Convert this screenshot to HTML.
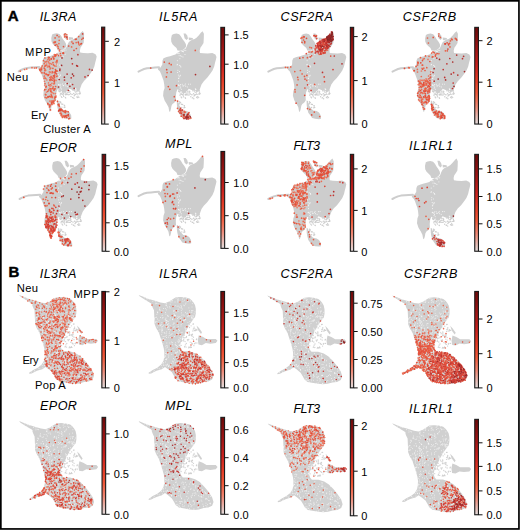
<!DOCTYPE html><html><head><meta charset="utf-8"><style>html,body{margin:0;padding:0;background:#fff;overflow:hidden;}svg{display:block;}</style></head><body>
<svg width="520" height="530" viewBox="0 0 520 530" font-family='"Liberation Sans", sans-serif'>
<defs>
<linearGradient id="cm" x1="0" y1="1" x2="0" y2="0"><stop offset="0" stop-color="#e2dcdc"/><stop offset="0.08" stop-color="#e8b8b0"/><stop offset="0.18" stop-color="#f08874"/><stop offset="0.32" stop-color="#f05838"/><stop offset="0.45" stop-color="#e43c26"/><stop offset="0.6" stop-color="#ca221e"/><stop offset="0.8" stop-color="#9a1414"/><stop offset="1.0" stop-color="#6a0a0a"/></linearGradient>
<g id="shA" fill="#cdcdcd"><polyline points="138.5,71.6 141.0,70.3 144.0,69.0 147.0,68.2 151.0,67.9 155.0,67.6 159.0,67.3" fill="none" stroke="#cdcdcd" stroke-width="2" stroke-linecap="round" stroke-linejoin="round"/><polygon points="160.5,67.4 162.3,64.5 162.5,60.5 163.5,58.3 166.7,57.0 170.0,56.2 173.0,55.3 175.4,54.5 177.5,52.8 180.0,51.2 183.0,50.0 185.5,48.8 186.8,46.5 187.2,45.2 188.5,42.6 190.3,40.8 192.8,39.5 194.6,38.9 196.5,37.7 198.9,35.2 200.8,32.8 202.6,31.2 203.9,33.8 203.8,38.3 203.5,43.0 202.0,45.5 200.4,47.8 199.7,50.7 200.0,52.9 203.1,53.3 207.7,53.5 212.3,53.1 215.4,54.6 216.5,56.9 215.8,60.0 215.1,62.5 214.2,66.5 212.5,70.5 210.6,73.3 207.2,77.8 203.8,81.2 201.5,84.6 199.8,89.2 198.1,92.2 197.2,91.5 196.6,90.9 192.3,90.3 189.2,89.1 186.8,91.0 185.3,93.0 183.5,92.0 181.8,91.2 179.4,90.3 177.5,89.3 176.3,92.2 175.8,96.5 176.0,100.2 174.5,102.5 172.5,104.0 171.5,105.8 170.8,109.6 170.0,111.9 169.2,111.2 168.5,107.3 166.9,104.2 164.6,100.4 163.1,95.8 163.5,91.2 164.6,88.1 164.2,84.2 163.5,80.4 162.3,77.3 161.2,74.2 160.0,71.5 158.0,69.6 158.0,68.3"/><polygon points="177.5,50.6 176.5,48.0 174.2,45.9 172.5,44.2 171.3,41.8 171.1,38.4 171.9,34.9 173.7,34.0 176.5,33.6 179.2,34.3 181.0,36.4 182.6,39.2 184.4,41.5 185.8,44.0 186.2,46.2 185.0,48.2 183.0,49.8 180.6,50.8"/><polygon points="176.8,100.5 178.2,101.0 178.6,104.2 180.6,107.6 183.3,110.4 186.8,111.0 189.2,112.5 191.0,115.6 191.2,118.8 189.2,119.2 185.4,118.8 182.3,118.1 180.8,115.8 178.5,112.7 177.3,108.1 176.9,105.0"/><polygon points="183.5,33.4 185.6,33.4 187.2,35.6 188.0,38.6 186.5,40.0 184.6,38.2"/><polygon points="188.6,37.4 192.7,37.9 193.0,39.6 189.0,40.2"/><g stroke-linecap="round" fill="none"><path d="M181.9 51.2h0M180.5 55.8h0M183 57h0M182.4 51.5h0M185.8 50.4h0M179.1 55.7h0M177.6 53.3h0M183.1 51.2h0M183.6 51.8h0M179.2 53.4h0M185 54.5h0M178.4 53.2h0M181.8 56.3h0M184.2 50.4h0M178.6 81.2h0M180.3 75.3h0M180.9 67h0M180 76h0M179.4 71.6h0M180.7 87.2h0M178.9 78.3h0M180.6 66.1h0M178.4 78.4h0M177.3 60.7h0M177.1 64.9h0M178.5 84.9h0M179.2 85.3h0M180.6 84.6h0M177.9 70.3h0M178.3 85.3h0M177.4 64.4h0M177.7 72.5h0M179.4 65.4h0M178.3 75.1h0M179.1 76.8h0M179.9 58.7h0M196 89.4h0M195.5 89.5h0M185.8 86.3h0M180.1 88.2h0M182.2 84.3h0M180 86h0M190.3 84.2h0M183 85.8h0M185.3 84h0M187.3 87h0M184.9 85.2h0M188.6 84.2h0M195.3 88.7h0M183.2 86h0M181.3 89.3h0M188.7 89.4h0" stroke="#fff" stroke-width="0.9"/><path d="M185.2 91.6h0M197.4 97.9h0M196.6 97.2h0M182.8 94.8h0M183.5 96.7h0M199.8 94h0M199.8 93.1h0M182.6 91.6h0M182.1 91.4h0M197.1 94.4h0M192.7 97.8h0M198.7 97.6h0M195 94.4h0M181.7 97.7h0M185.2 97.8h0M200.1 93.5h0M194.4 91h0M180.5 90.8h0M185.7 95.1h0M196.7 91.5h0M183.4 92.4h0M183.1 95.5h0M183.5 93.7h0M185.7 94.1h0M189.2 94.9h0M187.8 91.2h0M181.5 94.3h0M194.4 95.2h0M185.1 94.8h0M180 95.3h0M183.3 92.2h0M195.5 94.7h0M198.8 94h0M191.8 94.7h0M188 95h0M193.8 98.7h0M199.5 92h0M180.3 94h0M179.2 91.8h0M181.1 96.9h0M192.9 90.7h0M186.8 94.5h0M181.3 93.9h0M189.5 92.9h0M182.1 92.6h0M190.4 94h0M192 94.7h0M179.9 92.1h0M196.6 92h0M190.8 96.8h0M193.5 93.8h0M192.3 97.9h0M188.1 92.9h0M189.8 91.8h0M180.1 90.9h0M178.7 91.4h0M184.8 92.5h0M195.2 92.3h0M189.2 91.1h0M194.6 95.2h0M181.9 94.3h0M199.3 90.3h0M196.6 93.9h0M186.7 94.7h0M185.5 98.2h0M194 96.1h0M186.9 93h0M178.8 90.6h0M197.8 96.4h0M184.1 91.8h0M179.6 103.9h0M178.2 103.7h0M179.8 102.9h0M181.5 104.3h0M178.6 104.3h0M179.7 101.7h0M182.6 104.5h0M184.4 105.7h0M184 107.9h0M180.6 102.6h0M184.1 105.6h0M184.2 107.2h0M181.8 107.4h0M184.9 107.4h0" stroke="#cdcdcd" stroke-width="1.4"/></g></g>
<g id="shB" fill="#d0d0d0"><polygon points="138.6,295.0 142.7,296.6 148.8,299.0 155.0,300.8 160.4,302.5 165.0,303.2 169.6,301.2 172.7,299.2 175.8,297.3 180.4,296.9 185.0,297.3 189.6,298.5 192.7,301.2 195.0,305.0 195.8,308.8 195.8,313.5 195.0,317.3 193.8,318.6 190.8,322.7 188.5,326.5 186.2,330.4 184.6,334.2 182.3,338.1 180.8,341.9 180.0,345.8 181.0,349.0 182.8,351.3 189.4,351.3 195.1,353.2 199.8,356.0 204.5,360.8 208.3,365.5 212.1,371.1 213.5,375.8 212.1,379.6 208.3,381.5 203.6,382.0 198.9,383.4 194.2,383.9 189.4,383.4 184.7,382.5 178.8,381.5 175.8,379.2 174.2,376.2 171.9,372.3 168.1,369.2 165.0,366.9 161.9,369.2 156.5,370.8 151.2,373.4 148.8,373.8 148.6,372.8 152.7,370.0 157.3,367.7 161.2,364.6 163.5,360.8 164.2,356.9 164.4,352.5 163.8,348.5 162.3,343.1 160.8,338.5 159.0,333.1 156.0,327.7 154.5,323.8 154.5,320.0 154.3,317.2 154.2,314.2 154.0,310.3 152.5,307.2 151.2,303.4 145.8,300.3 139.6,296.3"/><polygon points="198.8,335.2 202.7,336.7 206.5,338.9 211.2,338.9 215.8,338.9 217.5,340.8 215.8,343.1 210.4,343.8 205.8,343.1 201.9,345.2 198.5,344.6 197.8,340.0"/><polygon points="196.5,325.4 199.0,328.0 202.0,332.3 201.0,334.0 198.0,330.0"/><g stroke-linecap="round" fill="none"><path d="M172.5 344.8h0M176.6 347.2h0M185.8 365.5h0M178.2 300.3h0M171.6 369.9h0M177.5 351.9h0M176 353.9h0M172.9 319.7h0M201.5 357.9h0M162.2 315.4h0M210.4 370.3h0M146.2 300.3h0M180.5 334.8h0M154.5 319h0M154.6 318h0M166.4 335.3h0M181.6 372h0M206.6 367.7h0M157.3 311.9h0M194 378.6h0M170.2 304.2h0M157.8 368.2h0M183.3 321.1h0M180.5 370.8h0M184.6 319.9h0M172 300.4h0M181.5 306.7h0M191.1 380.6h0M174.7 359.9h0M193.8 375h0M193.8 357.6h0M198 376.3h0M165 355.9h0M206.1 372.4h0M169.8 365.3h0M185.4 329h0M171.6 369.5h0M174.6 315.5h0M184.6 376.8h0M199 376.3h0M182.3 323.1h0M201.3 370.5h0M191.9 379.5h0M159.3 310h0M172.4 319.5h0M144.2 297.8h0M161.7 365.4h0M149.2 299.2h0M185.8 353.2h0M199.1 380.2h0M189.9 312.7h0M174.2 310.9h0M192.1 310.9h0M159 325.7h0M184.6 362.2h0M168.1 365.4h0M185.5 375.9h0M166.8 345.6h0M204.5 365.8h0M187.4 313.2h0M192.7 367.8h0M186.7 358.8h0M178.8 365.3h0M179.8 363.3h0M163.7 365h0M177.3 359.3h0M161.9 328.9h0M201.9 375.1h0M154.2 370.6h0M181.5 312.9h0M178.7 339.7h0M183.9 297.5h0M168.6 366.2h0M180.8 338.7h0M190.4 300.9h0M178.9 331.8h0M210.3 377.1h0M199.7 375.1h0M174.3 323.2h0M190.1 323.6h0M165.2 350.1h0M157.4 312.6h0M178.3 333.8h0M166.7 331.8h0M178.2 309.2h0M194.1 367.1h0M158 303.6h0M168.8 355.9h0M189.7 376h0M176.5 362.4h0M176.3 356h0M152.8 301.3h0M146.6 298.3h0M179.9 340.8h0M181.2 308h0M173.2 363h0M163.1 336.5h0M177.2 333.2h0M191.1 370.1h0M205.5 366.3h0M191.4 371.5h0M185.7 331h0M194.4 364.2h0M205.8 373.2h0M190.6 363.2h0M192.7 301.3h0M164.2 336.7h0M188.5 325h0M178.5 329.6h0M191.1 362.7h0M184.7 360.7h0M157.8 330.7h0M166.7 303.8h0M179.8 340.1h0M183.4 362.5h0M184.4 300.2h0M178.1 348.1h0M166 320.4h0M170.8 337.5h0M177.8 378.3h0M183.8 305.2h0M178.2 306.1h0M171.8 354.4h0M172.7 318.3h0M182.2 332.3h0M193.6 316.2h0M165.5 319.1h0M195 311.9h0M207.2 373.1h0M158.9 332.8h0M185.3 304.1h0M179.2 301.4h0M179.8 351.1h0M166.6 337.5h0M194.4 369.5h0M170.4 317.9h0M187.6 382.9h0M163 343.8h0M194.5 376.9h0M170.6 327.8h0M180.9 338.1h0M189.9 321.6h0M192.9 356.7h0M159.8 307.7h0M165.4 359.5h0M166 305.4h0M207.4 378.6h0M162.4 330.5h0M208.6 374.5h0M157.2 327.2h0M166 327.3h0M168.2 329.5h0M179.4 345.4h0M179.6 365.1h0M193.8 374.9h0M187.2 316.8h0M177.7 363h0M168.1 325h0M175.6 342.8h0M192.6 358h0M202.5 366.6h0M201.1 374h0M177.8 358.1h0M170.1 308h0M194.1 383.1h0M166.7 309.9h0M182.3 375.8h0M183.1 314.9h0M179.6 380.1h0M174.7 314.6h0M178.1 340.9h0M187.9 316.1h0M166.4 365.8h0M162.7 318.1h0M202 368.1h0M192.3 303.6h0M174.6 336.7h0M179.3 341.7h0M161.9 322.6h0M173.6 358.6h0M165.5 356.1h0M191.8 316.1h0M180.9 335.7h0M184.7 320.8h0M166.8 343h0M160.9 325h0M168 354.3h0M157.8 312.8h0M189.4 358h0M169.1 301.5h0M176.9 352.5h0M196 368h0M167.5 324.5h0M168.6 357.2h0M176.8 365.1h0M165 339.5h0M192.2 369.3h0M185.6 312.6h0M181.8 357h0M165.7 336.2h0M179.3 344.8h0M180.6 318.5h0M179.6 301.8h0M187.9 322.4h0M188.9 360.6h0M167.2 347.6h0M181.3 310.4h0M177.5 318.4h0M181.1 324.5h0M186.7 298.4h0M188.9 307.9h0M173.8 331.6h0M185.3 356.3h0M195.4 361.8h0M201.4 371h0M169.2 333.6h0M181 375.5h0M178 341.7h0M192.9 375h0M183 301.2h0M176.2 330.3h0M178 316.3h0M161.5 330.2h0M206.9 380.9h0M188.5 372h0M170.2 366.6h0M181.1 375.3h0M156.9 321.6h0M205.6 367.5h0M168.4 326.7h0M182.5 299.1h0M161.7 339.3h0M174 313.4h0M174 310.3h0M206 372.3h0M192 307h0M190.7 378.4h0M171.9 302h0M155.3 322.3h0M191.8 312.5h0M188.4 365.3h0M166.5 353.9h0M155.8 321.8h0M171.6 342h0M178.4 299h0M183.5 320.3h0M173.2 361.7h0M176 311h0M180.2 352.3h0M165.5 353.5h0M176.5 370.2h0M184.1 315.9h0M171.6 363.7h0M197.5 365.3h0M176 298.1h0M183.3 358.5h0M181.5 372.6h0M171.2 334.3h0M200.8 364.9h0M165.9 314.2h0M175.3 362.7h0M172.7 361.2h0M168 321.5h0M170.4 301.8h0M195.8 360.3h0M155.8 317.5h0M179.9 316.5h0M165.9 325h0M187.3 300.2h0M164.3 356.8h0M167.1 364.5h0M161.7 334.7h0M192.2 318.9h0M165.6 308.6h0M195.9 359.3h0M162.7 329.2h0M163 363.5h0M177.5 299.9h0M168.1 316.2h0M183.2 297.8h0M162 332.7h0M179.3 307.1h0M191.5 318.1h0M192.9 354.2h0M169 329.4h0M160.5 325.7h0M181 366.9h0M188.8 376.7h0M188.5 379.9h0M186 303h0M170.6 329.9h0M163.2 339.2h0M159.6 309.1h0M168.7 337.2h0M156.6 303.3h0M164.2 332.5h0M167.9 327.4h0M182.5 336.7h0M163 317.5h0M184.7 379.9h0M165.8 346.2h0M169.4 331.9h0M159.3 368.8h0M161.7 327h0M189.5 315.9h0M168.1 316.3h0M175.6 352.8h0M179.7 350.5h0M180.6 368.9h0M190.7 356h0M175.4 345.1h0M166.3 320.4h0M156.4 317.2h0M162.9 310.8h0M177.1 306.2h0M150.8 372h0M192.2 317.4h0M163.6 362.5h0M201.7 368.7h0M181.1 332.4h0M200.8 366.2h0M188.7 315.5h0M182.5 378.7h0M185.9 330.3h0M147.5 298.8h0M179.2 337.9h0M166.6 322.5h0M198.6 369.6h0M159.9 329.8h0M184.9 363h0M151.7 304.5h0M175.2 305.7h0M181 307.8h0M185.4 319.4h0M166 318.1h0M153.7 372.1h0M174.9 331.9h0M171.8 369.1h0M192.9 310.6h0M165.5 362h0M161.8 340.7h0M178.1 367h0M197.9 360.4h0M168.5 366.4h0M200.6 363.2h0M191.4 317.3h0M181.8 315.2h0M167.7 327.8h0M187.8 367.1h0M165.9 351.7h0M165.1 319.8h0M194.1 313.8h0M189.5 310.8h0M164.8 333.3h0M168.8 323.6h0M178.8 379.7h0M191.5 310.8h0M186.1 328.6h0M186.8 313.9h0M184.8 373.9h0M176.4 345.5h0M167.4 315.4h0M177.2 297.9h0M193.8 383h0M175.4 315.8h0M208.8 368.7h0M172.6 342.7h0M202.6 363.5h0M179.7 375.5h0M166 303.9h0M203.4 369.1h0M184.8 375.2h0M164 323h0M185.8 319.8h0M183.8 356.8h0M165.4 312.4h0M161.8 331.3h0M170.4 367.9h0M169.2 335.6h0M176.5 378.7h0M164.5 357.6h0M172.2 300.7h0M170 320h0M188.9 316.8h0M169.4 306.8h0M170.1 325.4h0M200.1 370.6h0M166.6 359.3h0M188.7 325.6h0M205.9 379.4h0M173.7 327.2h0M173.4 323.1h0M168.7 353.3h0M185.3 361h0M193.3 364h0M209.3 374.6h0M178.7 342.4h0M177 321.1h0M180.4 335.8h0M169 349.4h0M203.3 380.7h0M193.6 358.4h0M186.8 370.4h0M163.2 338.5h0M187.6 373.8h0M176.1 375.4h0M168.1 321.6h0M194 318h0M166.2 333.2h0M174.3 326.9h0M170.8 335.1h0M179.6 330.5h0M155.3 303.8h0M166.5 323h0M174.9 315.5h0M183 380.4h0M166 348.2h0M166.2 321.8h0M162.2 339.2h0M177.3 362h0M157.5 319h0M162.4 367.8h0M180 377.4h0M189.5 382.5h0M172.1 333.8h0M180.6 377h0M178.8 369.6h0M171 328.6h0M189.1 377.5h0M175.6 356.3h0M167.7 364.2h0M167.7 346.1h0M182.3 337.7h0M190.8 315.8h0M181.7 317.9h0M166.9 358.7h0M171 349.9h0M180.5 381.7h0M175.1 315.6h0M163.5 308.5h0M184.3 305.7h0M206 377.1h0M193 318.5h0M178.8 317.5h0M160.5 317.5h0M159 320.3h0M203 371h0M188 376.7h0M165.8 365h0M166.3 359.8h0M181 326h0M187.8 301.4h0M181 305.6h0M188.5 301h0M202.7 364.8h0M177.6 301.9h0M178.1 311.4h0M178.1 326.5h0M176 312.6h0M175 302h0M175.1 344.6h0M209.8 377.3h0M202.9 378.1h0M182.8 356h0M177.5 380.3h0M203.7 380.1h0M177.5 346.6h0M195.3 366.8h0M198.1 381.7h0M163.7 325.8h0M178 324.8h0M161.2 324.3h0M193 354.9h0M156.9 314.4h0M166.4 326.7h0M167.6 307.1h0M197.7 364.5h0M163.9 365.3h0M167 320.5h0M183 360.9h0M174.2 367.8h0M210.5 377.8h0M166.5 305.7h0M161.6 311.3h0M179.1 345.5h0M155.3 301.8h0M181.2 321.2h0M198 381.5h0M173 348.6h0M176 353h0M173.4 311.2h0M184.9 327.8h0M174 350.5h0M162.4 326.7h0M169.8 343h0M173.1 324.6h0M208.7 370.8h0M160.2 310.2h0M192.8 315.9h0M182.3 309h0" stroke="#fff" stroke-width="0.7"/><path d="M196.6 330h0M182.1 340.7h0M186.4 337.3h0M189 346.9h0M189.2 332.5h0M185.1 337.7h0M191.2 334.7h0M188.7 339.5h0M197 329.9h0M194.1 328.7h0M194.6 343.6h0M184.8 346.4h0M189.1 333.8h0M189.9 347.6h0M188.8 335.3h0M185.4 344.8h0M189.1 331.6h0M194.7 343.8h0M192.1 343.6h0M192.6 344h0M194.1 327.2h0M194.4 330.5h0M184.6 346.9h0M186.3 343.5h0M190.9 346.6h0M196.4 339.6h0M181.6 340.2h0M195.3 330.7h0M183.7 340.9h0M191.1 325.8h0M192.9 324.1h0M195.3 342.9h0M193.9 345.7h0M190.2 347.5h0M191.4 335.5h0M187 331.9h0M194 328.6h0M191.6 343h0M192.3 336.2h0M183.7 339.7h0M186.1 347.1h0M196 330.2h0M196.7 338.9h0M196.9 343h0M189.4 335.4h0M181.1 345.4h0M189.6 335h0M193.2 329.1h0M183.9 337.9h0M186.5 336.5h0M196.6 339.4h0M187.5 333.3h0M184.5 335.1h0M187.9 340.7h0M193.5 337.2h0M191.4 347.4h0M195.8 329.2h0M189.5 327.5h0M193.5 324h0M183.1 337.1h0M185.1 341.6h0M192.9 331h0M193.5 339.7h0M192.5 334.6h0M188.6 347.8h0M192.3 334.1h0M190.2 342.2h0M187.4 339.7h0M192.1 338.8h0M181.3 341.3h0" stroke="#d0d0d0" stroke-width="1.3"/></g></g>
</defs>
<rect x="0.85" y="0.85" width="518.1" height="528.1" fill="#fff" stroke="#000" stroke-width="1.7"/>
<text x="7.7" y="20.8" font-size="15" font-weight="bold" stroke="#000" stroke-width="0.45">A</text>
<text x="8.4" y="277.0" font-size="15" font-weight="bold" stroke="#000" stroke-width="0.45">B</text>
<use href="#shA" transform="translate(-119.8,-0.3)"/>
<g stroke-linecap="round" fill="none" opacity="0.88"><path d="M46.4 64.8h0M51.4 85.4h0M44.5 90.4h0M51.4 102.3h0M53 88.6h0M56.2 80.4h0M44.7 85.4h0M49.5 88.3h0M56.7 63.9h0M55.6 62.1h0M56 55.7h0M46.6 63h0M45.9 73.5h0M50.8 78h0M40.6 68.9h0M46 89.3h0M53.6 100.6h0M46.8 79.9h0M44.1 77h0M48.8 62.7h0M52.2 71.6h0M51.9 101h0M47.9 75.7h0M49.7 74.1h0M50 86.3h0M46.5 92.2h0M48.4 59.1h0M65.2 116h0" stroke="#f0816b" stroke-width="1.7"/><path d="M44.5 81.3h0M48.1 66h0M53.8 83.8h0M49.3 63.8h0M51.9 83.3h0M45.6 74h0M46.6 65.1h0M55.4 93.6h0M56 66.2h0M51.6 92.2h0M51.6 64.2h0M52.1 92.5h0M48.5 82.9h0M47.5 66.9h0M53.3 102.6h0M51.1 94.4h0M45.7 70.3h0M49.4 71.9h0M53.5 93.4h0M50.5 77.4h0M50.5 90.5h0M51.6 88.9h0M50.3 72.2h0M50.4 63.5h0M48.5 61.9h0M47.8 59.7h0M41.5 67.3h0M52.1 73h0M53.8 103.5h0M45.1 77.8h0M52.1 96.9h0M44.6 73.5h0M59.8 49.5h0M79.4 45.1h0M59.1 105h0M63.2 116.5h0M60 108.9h0M61.2 115.4h0M58.7 104h0M63.9 111.7h0M60.9 112.1h0M63.6 115.8h0" stroke="#f07056" stroke-width="1.7"/><path d="M32 67.7h0M24.6 69.5h0M20.3 71.2h0M50.1 80.4h0M44.9 57.9h0M50 101.1h0M45.9 87.2h0M42.1 72.8h0M44.8 66.2h0M44.8 70.7h0M54.3 54.6h0M51.3 59.2h0M50.9 91.1h0M56.5 76.5h0M55.6 71.4h0M47.8 103.8h0M54.2 72.4h0M54.6 97h0M54.8 80.1h0M48.2 104.6h0M45.4 94.4h0M41.6 68.4h0M41.4 72.7h0M56.9 60.8h0M49.9 77.5h0M54.5 65.8h0M53.2 86.9h0M54.4 83.4h0M54.5 77.5h0M44.2 63.7h0M50.3 84.6h0M45.8 78.5h0M47.8 97h0M54.7 98.3h0M54.1 88.9h0M45 69.2h0M51.7 77.1h0M42.3 65.9h0M46.6 97.9h0M50 69h0M45.2 97.3h0M49.9 105.3h0M49.5 66.1h0M44.4 76h0M54.6 56.4h0M50.6 96.9h0M51.1 76.4h0M52.3 97.4h0M46.8 61.3h0M53.9 103.4h0M44.1 78.5h0M59.2 40.3h0M58.1 46.7h0M56.8 44.6h0M55.5 41.8h0M54.2 42.1h0M59 36.8h0M57.6 46.1h0M58.9 43.6h0M65.1 36.4h0M65.2 33.9h0M66.8 34.6h0M71.6 46.9h0M80.7 44.2h0M76.2 42.6h0M71.9 41.9h0M57 54.3h0M66.8 111.3h0M58.9 110.3h0M62.1 115.9h0M61.5 115.4h0M62.2 116.6h0" stroke="#f05f41" stroke-width="1.7"/><path d="M34.5 68h0M26.7 69h0M36.4 67.9h0M48.7 89.9h0M53.7 101.1h0M52.9 68.3h0M55.3 56.1h0M55.7 54.9h0M55.6 86.5h0M57.4 71h0M49.8 79.9h0M57.1 60.3h0M39.8 70.1h0M48.9 58h0M56.1 70.9h0M48.9 85.2h0M45.1 61.9h0M51.6 96.2h0M52.6 88.3h0M51.5 95.4h0M45 83.7h0M57.1 76h0M53.9 78.9h0M50.4 88.9h0M48 74.5h0M45.6 65.7h0M50.7 91.4h0M54.4 81.9h0M46.4 74.4h0M48.2 96.5h0M53.5 64.9h0M56 96h0M49.5 107h0M53 62.7h0M43.5 60.7h0M51.6 102.8h0M50.7 68h0M45.9 94.8h0M53.8 58.9h0M55.1 37.9h0M58.3 48.4h0M55.1 42.4h0M54.1 42.7h0M64.6 36.8h0M78.7 36.6h0M81.8 39.3h0M78.7 43.8h0M62.7 53.1h0M60.8 55.7h0M60.3 53.5h0M63.4 52.7h0M59.4 50.8h0M65.3 110.6h0M58.1 104.7h0M60.2 113.5h0M67.2 115.5h0M62.5 117.5h0M64.8 117.5h0M68.5 115.9h0M66.1 116h0M59.3 106.3h0M61.6 109.7h0M64.9 110.9h0M61.1 113.8h0M61.5 114.2h0" stroke="#ed5234" stroke-width="1.7"/><path d="M55 100h0M51.3 58.7h0M41.5 69.7h0M52.1 80.2h0M52.7 78h0M56.4 73.8h0M54.6 75.2h0M55.1 88.8h0M53.6 101.8h0M44.8 89.5h0M53.4 75.8h0M49.3 66.8h0M39.8 69.3h0M55.9 70.9h0M44.2 68.1h0M44.2 72.8h0M53.7 58.4h0M49.3 57.5h0M54.4 76.9h0M50.9 79.2h0M46.2 86.3h0M55.4 71.9h0M51.7 103h0M53 56.9h0M54 90.2h0M56.9 61.9h0M40.5 71h0M47.8 103.4h0M47.8 91.3h0M49.9 104.9h0M49.6 96.3h0M55.7 97.2h0M52 104.4h0M48.2 96.9h0M55.5 69.5h0M48.4 75.2h0M52.1 101h0M55.1 73h0M52 102.7h0M54.2 80.6h0M49.8 106.5h0M50.5 109.9h0M48.4 57.4h0M54.1 81h0M55.4 55.3h0M52.5 72h0M49.6 60h0M63.5 46.6h0M57.1 35.4h0M67.4 39h0M64.3 34.8h0M76.3 39.1h0M75.3 39.3h0M76.4 48.5h0M58.6 55.6h0M62 110.2h0M65.5 111.7h0M66.7 117.4h0M64.2 116.2h0M59.7 109.7h0M63.1 111.2h0M64.9 112.1h0M68.8 118.8h0M57.5 101.4h0M69.6 118.4h0M65.5 112.6h0" stroke="#e9472d" stroke-width="1.7"/><path d="M55.2 45.2h0M66.9 36.8h0M73.1 43.4h0M68.7 46h0M74 50.3h0M83.1 38.2h0M81.4 43.5h0M78.3 42.2h0M63.5 53.3h0M68.2 111.8h0M58.9 104.9h0M65.5 116.1h0M58.6 110.9h0M66.1 115.5h0M61 109.2h0M60.6 110.5h0" stroke="#e43c26" stroke-width="1.7"/><path d="M66.8 37.4h0M82.6 33.9h0M60 109.7h0M58.9 110.7h0M68.3 114.7h0" stroke="#db3323" stroke-width="1.7"/><path d="M72.4 63.8h0M89.5 69.4h0M85 76.9h0" stroke="#ca221e" stroke-width="1.7"/><path d="M77.5 66.2h0M71.2 77.8h0M77.9 54.7h0M72.6 84.5h0M64.5 80h0" stroke="#be1e1c" stroke-width="1.7"/><path d="M74.2 88.3h0M73.6 75.8h0M59.8 70.6h0M68.3 90.3h0M67.3 83.5h0M67.1 74.1h0M59.9 69.2h0" stroke="#b21b19" stroke-width="1.7"/><path d="M92.1 70.1h0M88.1 75.5h0M59.2 79.5h0M62 57.9h0M69.9 86.3h0M64.4 77.2h0M76.7 65.6h0M58.5 87h0" stroke="#a61816" stroke-width="1.7"/><path d="M72.5 74.1h0M71.7 58.6h0M61.6 65.4h0" stroke="#9a1414" stroke-width="1.7"/></g>
<use href="#shA" transform="translate(0,0)"/>
<g stroke-linecap="round" fill="none" opacity="0.88"><path d="M167.1 72.6h0M183.2 116.9h0M191 118h0M185.3 112.2h0M188.4 117.9h0" stroke="#f05f41" stroke-width="1.7"/><path d="M166.4 76.9h0M171.2 64.7h0M184.3 112.7h0M179.8 110.1h0M184.3 116.5h0M180.5 111.8h0M189.9 118.5h0M184.2 111.4h0M177.5 108.3h0M188 114h0" stroke="#ed5234" stroke-width="1.7"/><path d="M174.3 96.7h0M169.8 89.3h0M169.3 63.4h0M168.3 86.6h0M164.3 62.1h0M175.4 100.3h0M195.3 50.4h0M187.3 117.5h0M181.8 112h0M178.6 111.4h0M177.6 101.1h0M183.5 114.6h0" stroke="#e9472d" stroke-width="1.7"/><path d="M171.1 72h0M176.5 85.7h0M166.7 69.7h0M183.3 114.8h0M187.7 116.6h0M179.9 110.2h0M182.1 110.2h0M181.2 116.2h0M189 112.5h0M183.4 115.4h0M189.1 115.9h0M150.7 68h0" stroke="#e43c26" stroke-width="1.7"/><path d="M181.5 113.6h0M180 112.9h0M188.3 113.8h0M183.7 118.4h0M185.6 117.2h0" stroke="#db3323" stroke-width="1.7"/><path d="M187.5 117.4h0M182.5 110.1h0M180.5 108.4h0M180.7 110.3h0M188.2 119h0" stroke="#d32b21" stroke-width="1.7"/><path d="M185 118.4h0M186.2 117h0" stroke="#b21b19" stroke-width="1.7"/><path d="M195.5 74.6h0M187 115.2h0M187.8 114.6h0M186.6 117h0" stroke="#a61816" stroke-width="1.7"/><path d="M209.9 66.4h0M187 117h0M186.6 116.9h0M190.3 116.9h0M186.7 118.9h0M188.1 117.4h0" stroke="#9a1414" stroke-width="1.7"/><path d="M184.1 114.9h0" stroke="#8e1212" stroke-width="1.7"/></g>
<use href="#shA" transform="translate(129.8,0)"/>
<g stroke-linecap="round" fill="none" opacity="0.88"><path d="M328.3 45.9h0M302.8 37.8h0M309.9 47.4h0M301.6 37.5h0M303.4 36.7h0M302.1 73.9h0M300.4 70.5h0M298.1 79.7h0M295.1 91.9h0" stroke="#f05f41" stroke-width="1.7"/><path d="M323.7 41.2h0M321 54h0M323.6 43.7h0M319.7 48.3h0M323 53.4h0M324.2 41.4h0M324.8 42.2h0M326.4 48.1h0M320.5 41.2h0M319.2 54.3h0M322.6 48.8h0M318.1 43.7h0M323.6 46.4h0M322.8 50.7h0M319.3 44.2h0M326.1 44.4h0M325.9 43.2h0M325.2 52.4h0M317.2 51.6h0M320.7 46.5h0M323 44.6h0M311.5 47.8h0M301 38.3h0M304.7 42.8h0M316.5 35.5h0M312.5 51.6h0M309 51.9h0M306.7 80.4h0M297.1 84.9h0M294.8 71.6h0M290.7 66.9h0M295 89.7h0M309.9 109.3h0M314.3 112.1h0M319.7 116.5h0M287.6 67.6h0M285.5 67.3h0" stroke="#ed5234" stroke-width="1.7"/><path d="M320 48.6h0M328.7 46.4h0M328.5 47.2h0M323.7 39.8h0M324.3 44.5h0M319.9 43.9h0M319 44.9h0M324.1 47.2h0M318.8 44.3h0M326.1 39.5h0M327.5 50h0M324.1 47.3h0M319.7 42h0M322.3 52h0M316 46.9h0M319.2 43.9h0M303.5 40h0M302 42.4h0M307.4 57.7h0M299.8 58.2h0M303 57.6h0M304.5 76.4h0M306.9 75.4h0M297.7 77.3h0M314.7 84.4h0M330.7 56.1h0M307.5 108.6h0" stroke="#e9472d" stroke-width="1.7"/><path d="M326.5 46.5h0M321.2 47.2h0M323.1 44h0M320 48.4h0M325.6 39.2h0M319.1 42.4h0M317.4 45.9h0M327.2 46.1h0M322.2 41.9h0M327.7 41.3h0M320.9 54.2h0M323.4 44.3h0M323.6 52.8h0M318.6 47.3h0M316.5 47.8h0M320 48.6h0M321.7 50.2h0M322.3 50.1h0M332.9 39.3h0M321.6 45h0M332.6 39h0M321.9 45.3h0M326.9 42.7h0M324 44.7h0M306.5 38.3h0M304.2 36.9h0M304.7 41.7h0M313.9 35.7h0M316.7 38.6h0M315.4 50.1h0M310.2 56.8h0M311.6 55.8h0M306.3 53.6h0M311.3 52h0M296.1 103.2h0M305 79.1h0M304.7 95.3h0M304.9 88h0M324.5 81.7h0M311.7 114.9h0" stroke="#e43c26" stroke-width="1.7"/><path d="M322.1 50.8h0M326.9 46.5h0M320.3 51.8h0M327.1 40.4h0M323.4 39.5h0M323.3 41.3h0M323.8 48.4h0M320.6 48.2h0M324.7 50.8h0M326.5 45.9h0M319.5 49.3h0M317.4 43.3h0M327.8 42.4h0M323 43.4h0M327.4 48.1h0M320.6 54h0M321.5 51.5h0M324.8 45h0M320.8 44.8h0M320.7 50h0M318.5 48.5h0M318.9 49.7h0M332.1 33.2h0M325.2 38.5h0M329.3 38.7h0M322.5 39.6h0M325.8 43h0M325.9 50.5h0M319.7 41.5h0M328.9 38.8h0M314.4 35.7h0M315.7 36.3h0M324.2 76.9h0" stroke="#db3323" stroke-width="1.7"/><path d="M323.6 39.9h0M318.4 42.6h0M323.7 52.9h0M324.2 39.8h0M325.4 48.4h0M324.9 53h0M321.9 45.1h0M327.5 48h0M316 51.8h0M318.9 51.3h0M324.9 44.2h0M315.4 52.9h0M327.4 44.9h0M328 47h0M315.1 48.8h0M318.3 46.2h0M324.6 40.4h0M326.8 41.5h0M326.1 49.2h0M319.6 45.6h0M318.3 52.8h0M319.7 49.3h0M325.8 45h0M326 48.9h0M321.3 42.8h0M315.8 45.7h0M320.9 46.1h0M331.2 36.2h0M322.2 40h0M327.7 40.7h0M331.5 32.1h0M322.9 48.8h0M320.2 42.2h0M330.2 44.2h0M323.2 42.2h0M330.1 40.9h0M315.9 36.5h0M308.4 66.3h0M307.6 84.8h0M333 69.6h0M311.1 90.4h0" stroke="#d32b21" stroke-width="1.7"/><path d="M318.1 47.6h0M317.6 45.4h0M320.8 50.5h0M326.1 42.7h0M320.7 45.4h0M317.2 43.7h0M317.5 44.1h0M320.8 53.1h0M327.7 44.3h0M326 47.3h0M328 41.4h0M325.7 40.8h0M331.8 34h0M331.3 40.3h0M329.6 41.3h0M322.1 40.9h0M317.4 51.3h0M332.5 37.5h0" stroke="#ca221e" stroke-width="1.7"/><path d="M321.2 49.2h0M320.5 43.4h0M318.1 46.1h0M331.3 41.3h0M331.2 43.7h0M319.8 41.4h0M314.5 63.3h0M322.5 72.4h0M334.3 56h0" stroke="#be1e1c" stroke-width="1.7"/><path d="M326.6 45.3h0M327.9 48h0M329.9 46.3h0M332.8 39.2h0M326.2 43.3h0M327.7 40.4h0M322.4 49.3h0M329.3 38.3h0M328.6 42.4h0M329.6 39.6h0M320 49.9h0M329.1 36.9h0M327.9 37.3h0M328.6 36.2h0M342 63.8h0" stroke="#b21b19" stroke-width="1.7"/><path d="M320.1 45.9h0M321.4 46.9h0M320 49.7h0M332.5 34.1h0M329.8 38.6h0M323.9 46.7h0M328.4 37.4h0M327 46.3h0M330 34.2h0M324.4 39.7h0M323.7 39.4h0M327.3 38.4h0M327.4 38.2h0M328 41.6h0M330.2 36.2h0M331.6 32h0M328.4 41.3h0M332.8 39.9h0M329.5 34.9h0" stroke="#a61816" stroke-width="1.7"/><path d="M324.2 41.3h0M328.9 45.3h0M322.5 46.2h0M329.5 42.5h0M327.8 40.8h0M332.4 37.6h0M331 37.7h0M333.1 39h0M330.8 41.3h0M333.2 36.4h0M331.6 34.4h0M328.3 35.9h0M328.4 36.2h0M330.9 38.5h0" stroke="#9a1414" stroke-width="1.7"/><path d="M326.9 38.2h0M329.4 39.6h0M327.9 40.2h0M328.8 37.7h0M332.2 33.4h0M328.8 36.4h0M331.7 35.8h0M330.1 38.1h0M331.4 41.7h0M330.1 37.1h0M328.9 40.4h0M328.1 39.9h0M331.8 39.7h0" stroke="#8e1212" stroke-width="1.7"/><path d="M330.7 39.7h0M331.9 40.6h0M330.2 35.7h0M328.8 39.2h0M331.8 34.3h0M327.3 36.9h0M330 40.2h0" stroke="#820f0f" stroke-width="1.7"/><path d="M332.3 32.4h0M330.8 38.1h0M326.8 37.2h0M331.9 35.6h0M327.4 39.4h0M331.9 36.2h0" stroke="#760d0d" stroke-width="1.7"/></g>
<use href="#shA" transform="translate(254,0)"/>
<g stroke-linecap="round" fill="none" opacity="0.88"><path d="M429.3 82.8h0M424.7 89.6h0M424.2 93.2h0M419.3 89.8h0M428.4 81.4h0M421 97.1h0M421.6 97.9h0M419.6 94.7h0M421.7 80.3h0M418.8 96.9h0M420.5 93.1h0M428.7 96h0M419.1 81.6h0M424 83h0M421.8 101h0M425.9 98.2h0M420.1 80.1h0M426.4 90.6h0M427.8 96.7h0M428.6 82.7h0M424.7 92.2h0M429.4 86.3h0M423 105.5h0M419.6 84.8h0M424 90.8h0M427 80.2h0M423.6 109.2h0M427.8 91.6h0M426.3 84.3h0M418.2 84.6h0M419.6 100.9h0M426.5 103.8h0M428.5 89.1h0M422.8 80.4h0M425.5 90h0M426.9 103.4h0M429.3 88.2h0M422.5 93.5h0M419.2 85h0M420.3 97.7h0M425.4 81.2h0M425.7 80.6h0M423.7 84.6h0M428.1 102.5h0M428 59.4h0M422.1 65.1h0M413.8 70.7h0M422 68.4h0M421.4 71h0M423.1 59.2h0M430.7 71.8h0M426.1 78.8h0M436 114.7h0M444.1 117h0M440.9 114.8h0M441 117.6h0M440 116.8h0M436.1 111.1h0" stroke="#f07056" stroke-width="1.7"/><path d="M422.6 85h0M424.6 88.9h0M428.2 86.2h0M425.5 101.5h0M424.1 85.7h0M429.7 83.2h0M427.7 99.7h0M421.2 86.1h0M421.1 83.1h0M428.2 100.6h0M428.4 96.9h0M426.4 81.4h0M418.7 99.9h0M423.9 102.9h0M423.8 82.4h0M428 99.6h0M421.6 89.6h0M425.2 95.8h0M422.7 99.2h0M421.6 100.1h0M422.7 92.8h0M425.8 85h0M419.2 87.6h0M422.5 101.8h0M423.7 103h0M428.7 98.8h0M418.6 99.8h0M425.9 88.2h0M424 97.5h0M425.4 88h0M424.2 80h0M429 56.3h0M423.8 68.2h0M421.3 76.5h0M417.5 72h0M428.6 76h0M428.5 78.8h0M418.3 63h0M417.4 69.4h0M417.9 63.5h0M424.2 58.6h0M437.4 114.3h0M437.6 114.4h0M444.6 116.8h0M439.1 111.3h0M432.5 105.2h0M437 115.8h0M437.4 116.7h0M436.5 111h0M444.3 118.5h0M435.7 113.8h0M438.2 115.8h0M441.6 117.4h0M432.7 109.3h0M448.5 43.9h0M435.8 54.4h0M408.6 67.7h0M438.9 33.8h0" stroke="#f05f41" stroke-width="1.7"/><path d="M418 92.9h0M419.5 83.4h0M421.4 100.1h0M422.8 86.5h0M422 103.9h0M420 81.9h0M426.5 84.8h0M430.4 82.4h0M429.1 99.5h0M428 90h0M420.3 95.6h0M430.5 83h0M424.6 108.9h0M421.4 97.4h0M425.7 83h0M421.4 87.4h0M426.6 97.5h0M424.4 85h0M421.5 83.9h0M424.9 102.2h0M427.2 97.7h0M424.1 84.9h0M429.8 89.8h0M425.8 90.9h0M419.9 82.3h0M426.8 83.7h0M427.3 81.1h0M425.5 81.1h0M430.1 88.8h0M430.4 74.5h0M420.5 57.7h0M422.6 65.2h0M426.8 67.7h0M417.9 62.4h0M444.9 116h0M441.1 116.9h0M440.3 118.7h0M435.7 112.4h0M435.7 113.8h0M442.7 113.7h0M438.6 112.7h0M432.2 110.4h0M441.7 115.6h0M438.7 111.8h0M450 46.9h0M455.3 38.4h0M445.4 50.8h0M450.4 40.9h0M452.1 39.7h0M428.4 43h0M427.5 38h0M438.9 53.8h0M432.9 56.7h0M431.7 53.1h0M409.3 67.8h0M440.4 37.4h0" stroke="#ed5234" stroke-width="1.7"/><path d="M420.4 83.3h0M427.7 87.1h0M429.7 98.3h0M425.9 88.8h0M423.3 84.4h0M427.9 93.1h0M417.6 93.5h0M420.5 86.7h0M429.3 97.6h0M425.4 95.6h0M419 91.6h0M429.4 96.4h0M423.1 107.5h0M427.9 82.1h0M422.1 104.5h0M428.3 85.7h0M429.6 91.9h0M430.4 85.1h0M419.7 97.3h0M426.7 99.7h0M428.8 95.5h0M429.1 90.5h0M429 101.2h0M428.8 99.9h0M421.2 92.4h0M423.2 85.6h0M416.1 66.4h0M430.7 77.1h0M417.6 65h0M429.8 61.5h0M425 70.5h0M425.5 55.9h0M422.5 60.6h0M422.6 69.2h0M417.9 62.4h0M432 107.7h0M438.1 114.6h0M433.5 112.6h0M443 114.1h0M438.4 116.5h0M432 109.1h0M433.3 107.3h0M432 107.5h0M435.4 112.2h0M437.6 113h0M434.5 115h0M441.1 117.8h0M440.5 116h0M451.5 39h0M449.6 43.4h0M447.3 50.8h0M433.2 37.4h0M434.2 52.8h0M433 51.9h0M435.3 55.4h0M435.4 56.2h0M432.2 57h0" stroke="#e9472d" stroke-width="1.7"/><path d="M423.7 82.9h0M425.4 93.8h0M423.7 91h0M420.4 90.6h0M428 91.6h0M417.7 95.7h0M426.2 102h0M429.6 84.1h0M429.9 80.4h0M429.3 83.7h0M429.3 86.5h0M423.7 96.8h0M426.5 99.5h0M423.2 84.5h0M425.1 91.2h0M430.4 88.4h0M418.4 81h0M426.3 102.4h0M425.5 96.9h0M421.3 102.1h0M429.9 78h0M414.3 70.7h0M420.8 62.8h0M441.7 117h0M441.9 115.3h0M444.8 117.9h0M441.5 113h0M434.5 112.1h0M442.6 114.9h0M431.7 108.7h0M434.4 112.5h0M444.1 115.7h0M431.8 106.2h0M437.9 117h0M431.3 104.4h0M437.1 113.5h0M456.3 39.2h0M444.9 43.9h0M456.8 40h0M448.6 44.8h0M447.1 42.8h0M437.1 53.5h0M404.5 68.4h0M438.7 36h0" stroke="#e43c26" stroke-width="1.7"/><path d="M435.4 113h0M439.1 112.1h0M433.5 109.5h0M442.1 117.3h0M441.2 112.4h0M447.9 49.1h0M445.4 43.8h0" stroke="#db3323" stroke-width="1.7"/><path d="M453.2 83h0M453.6 72.7h0" stroke="#ca221e" stroke-width="1.7"/><path d="M462.5 58.7h0M443.2 69.6h0M434.2 81.2h0M436.8 58.1h0M444.7 77.4h0M449.8 58.5h0M452.5 88.5h0M446.9 63.8h0" stroke="#be1e1c" stroke-width="1.7"/><path d="M463.6 56.3h0M456.7 55.1h0M457.8 75.1h0" stroke="#b21b19" stroke-width="1.7"/><path d="M452.7 62h0M433.1 72.4h0M438.2 79h0M445.6 79.9h0M434.1 68.7h0M451.2 74.1h0M464.5 71.6h0" stroke="#a61816" stroke-width="1.7"/><path d="M439.5 59.4h0M454 86.4h0" stroke="#9a1414" stroke-width="1.7"/></g>
<use href="#shA" transform="translate(-118.9,127.4)"/>
<g stroke-linecap="round" fill="none" opacity="0.88"><path d="M51.6 220.4h0M53.2 226h0M50.6 233.5h0M49.5 227h0M55.1 215.3h0M49.2 231.2h0M55.2 228.6h0M50.2 222.3h0M48 230.3h0M54.3 220.7h0M51.8 219.4h0M54.2 216.9h0M57 219.6h0M57.4 211h0M50.4 236.8h0M46 220.8h0M43.2 199.2h0M47.8 200.5h0M45.6 199.5h0M56.4 191.2h0M54.4 205.9h0M47.1 205.6h0M46.9 188.2h0M58.4 232.8h0M61.2 237.1h0M69.1 240.1h0M71.1 245.6h0M62.4 182.4h0M61.8 183.4h0" stroke="#f05f41" stroke-width="1.7"/><path d="M55 229.6h0M52.3 228.7h0M48.3 224.4h0M53.9 221.3h0M51.1 218h0M52.3 233.4h0M47.9 225.1h0M50.2 234.7h0M53.3 231.7h0M45.5 224.4h0M47.6 218.7h0M53.6 224.1h0M51.8 220h0M47.2 217.2h0M51.1 238.2h0M53.1 219.4h0M52.7 232.8h0M47.8 217h0M51 229.4h0M45.8 224.6h0M47.4 216.2h0M45.8 206h0M56.1 183.1h0M51.9 197.5h0M47 192.6h0M46.2 197.2h0M51.3 188.9h0M49 203.6h0M48.4 189.8h0M57.4 191.7h0M53.3 193.4h0M44.5 186.1h0M70.2 241.5h0M59.1 232.5h0M64.9 243.6h0M66.4 241.1h0M60.6 236.6h0M66.6 240h0M63.7 244.9h0M59 234.5h0M58.2 232.2h0M65.7 242.7h0M80.8 171.4h0M84.1 165.9h0M60.5 178.3h0" stroke="#ed5234" stroke-width="1.7"/><path d="M46.1 227.2h0M50.5 220.9h0M50.5 236.7h0M46.2 222.7h0M46.1 221.2h0M56.9 225.2h0M49.7 210.5h0M50.7 235.9h0M51 237.3h0M50.3 233.5h0M49.5 211.6h0M47.2 216.3h0M53.8 228.8h0M52.3 231.7h0M53.8 230.7h0M50.3 236.1h0M55.8 216.8h0M47.9 227.5h0M49.9 217.9h0M51.2 221.3h0M52.3 187.9h0M45 205.6h0M43.5 189h0M44.3 202.8h0M48.9 190.5h0M56.2 189.5h0M53.8 205h0M48 185.8h0M51.3 184.5h0M69.9 242.5h0M62.3 243.8h0M68.4 244.9h0M68.6 239h0M60.9 240.3h0M61.9 236.7h0M60.1 240.4h0M68.1 241.2h0M62.6 241.3h0M67.5 239.8h0M70.4 241.3h0M71.6 174h0M68.9 178.4h0M81.3 168.8h0M65.1 177.7h0M23.8 197.4h0" stroke="#e9472d" stroke-width="1.7"/><path d="M49.3 225.9h0M52.9 232.2h0M50.3 228.2h0M50.8 214.6h0M46.1 217.6h0M49.5 209.7h0M50.9 231.7h0M46.3 215.5h0M48.2 219.4h0M56.9 222.2h0M52.7 219.8h0M51.5 236.4h0M53 208.6h0M46.6 222h0M54 210.3h0M47.5 225.6h0M51.8 230.8h0M53.7 210.4h0M51.6 211.9h0M54.7 230.7h0M51.2 230.2h0M44.8 224.5h0M55.9 190.1h0M52.5 193.3h0M50.2 193.2h0M55.6 186.2h0M66 239.2h0M59.8 236.2h0M66.8 239.4h0M76.2 173.6h0M71.1 177h0M83.7 159.6h0" stroke="#e43c26" stroke-width="1.7"/><path d="M47.6 224.8h0M51.7 229.1h0M51.8 217.4h0M53.1 219.2h0M49.4 221.2h0M51.1 220.7h0M52.8 221.6h0M46.3 227.6h0M49 219.7h0M53.8 229h0M46.5 213.8h0M49.9 217.2h0M46.7 223.7h0M55.6 217.4h0M51.9 208.3h0M56 227.2h0M52.2 216.9h0M49.4 232.2h0M50.7 212.4h0M53.2 213h0M51.7 236.2h0M49.9 235.2h0M53.9 230.7h0M48.9 226.3h0M49 203.4h0M50.6 186.1h0M55.5 197.6h0M55.8 207.3h0M51.2 192.9h0M68.6 245.1h0M62.5 239.8h0M67.9 239.6h0M65.6 242.3h0M67.5 245.2h0M65.4 241.4h0M68 245.8h0M69.5 243.4h0M58.8 235.9h0" stroke="#db3323" stroke-width="1.7"/><path d="M48.4 219h0M51.1 218.2h0M53.8 230.4h0M53.7 227.6h0M48.1 220.5h0M55.8 219.4h0M52.1 227.1h0M48.2 222.7h0M48.3 226.9h0M46.1 227.4h0M46.4 216.6h0M48.2 229h0M48.5 222.4h0M54.4 230.4h0M51.4 218.6h0M51 225.7h0M47.4 221.1h0M50.9 235.6h0M46.8 226.4h0M56 224h0M48.2 228.7h0M50.9 230h0M52.7 227h0M55.9 226h0M53 230.6h0M45.7 226h0M70.2 242.7h0M66.7 239.5h0M64.9 239.4h0M65 240.2h0M67.5 238.5h0" stroke="#d32b21" stroke-width="1.7"/><path d="M48.4 224.5h0M54.6 223.9h0M55 220.5h0M52 226.7h0M57.6 210.7h0M56.5 213.7h0" stroke="#ca221e" stroke-width="1.7"/><path d="M75.1 184.2h0M59 206.1h0M76 214.6h0M77.4 214.2h0" stroke="#be1e1c" stroke-width="1.7"/><path d="M64.4 218.1h0M61.8 196.6h0M82.8 200.3h0M71.8 189.2h0M70.8 199.1h0M66.8 212.9h0M77.4 182.8h0M81.1 191.4h0M86.4 182h0" stroke="#b21b19" stroke-width="1.7"/><path d="M61.9 214.4h0M84.5 182.1h0M81.7 188.2h0" stroke="#a61816" stroke-width="1.7"/><path d="M70.7 216.6h0M88.9 189.6h0M84.9 206h0M63.3 195.8h0M67.7 182.6h0" stroke="#9a1414" stroke-width="1.7"/><path d="M80.2 191.9h0M78.9 197.6h0M77.1 192h0M78.9 194.3h0M75.2 212.3h0M79 187.2h0M89.2 185.3h0" stroke="#8e1212" stroke-width="1.7"/></g>
<use href="#shA" transform="translate(0,124.5)"/>
<g stroke-linecap="round" fill="none" opacity="0.88"><path d="M169.7 196.3h0M175.2 209.1h0M164.1 190h0M173.2 179.7h0M171.1 230.1h0M175.1 214.1h0M165.4 196.4h0M178.9 236.7h0" stroke="#ed5234" stroke-width="1.7"/><path d="M167.5 193.8h0M168.5 218.1h0M173.7 218.3h0M174.5 198.1h0M173.7 204.4h0M170.6 219h0M169.5 183.9h0M165.4 201.2h0M166.7 226.7h0M166 183.7h0M165 193.5h0M163 202.4h0M167.3 186.9h0M189.9 241.7h0M202.5 156.4h0" stroke="#e9472d" stroke-width="1.7"/><path d="M173.5 226.2h0M167.2 222.6h0M173.7 194h0M170.4 195.5h0M167.4 186.7h0M170.1 196.4h0M167.2 219.5h0M172.6 194.1h0M167.5 224h0M185.8 236.3h0M183.3 238h0" stroke="#e43c26" stroke-width="1.7"/><path d="M165.3 223.2h0M172.2 202.6h0M175.7 208.4h0M172.6 201.7h0M177.1 192.9h0M173.5 208.6h0M178.2 227h0M185.7 242h0" stroke="#db3323" stroke-width="1.7"/><path d="M194.9 187.9h0" stroke="#b21b19" stroke-width="1.7"/><path d="M188.7 213.4h0" stroke="#a61816" stroke-width="1.7"/><path d="M205.3 179.7h0" stroke="#9a1414" stroke-width="1.7"/></g>
<use href="#shA" transform="translate(129.8,127.4)"/>
<g stroke-linecap="round" fill="none" opacity="0.88"><path d="M321.9 175.3h0M317.6 171.3h0M324.2 170.8h0M293.3 195h0M306.5 205.2h0M292.7 198.1h0M305.1 201.8h0M296.6 187.4h0M292 203.8h0M294.7 192h0M300.4 190.6h0M294.2 185.6h0M302.5 224.4h0M305.2 225.2h0M304.9 207.6h0M299.6 236.1h0M303.6 214.1h0M298.9 220.9h0M303.9 218h0M303.8 208.7h0M301.6 229.7h0M298 233.7h0" stroke="#f0816b" stroke-width="1.7"/><path d="M308.5 167.1h0M309.1 167.6h0M310 167.2h0M308.7 162h0M311.8 170.6h0M310.8 171h0M309.1 168.7h0M307.6 172.2h0M312.5 175.6h0M314.4 172.6h0M306.1 163h0M307.5 169.1h0M302.1 162.6h0M313.2 172.7h0M327.5 173h0M327.6 174.3h0M326 169h0M324.2 178.9h0M316.8 180.5h0M327.9 176.5h0M326 167.6h0M319.1 178.5h0M321.9 177.3h0M324 177.8h0M316.9 177.9h0M328.7 163.4h0M327.7 164.6h0M325.7 166.4h0M314.1 162.3h0M306.7 185.1h0M316.3 177.7h0M308.2 180h0M314.3 178.2h0M306.7 183.9h0M309.7 182.9h0M295.1 203.9h0M296.6 188.3h0M303 206h0M295 185.2h0M294.2 199.1h0M301.4 192.2h0M306.4 189.7h0M305 193.5h0M305.5 183.9h0M299.9 191.2h0M292.1 192h0M299.2 192.6h0M292.9 194.7h0M305 184.3h0M300.7 189.7h0M292.2 198.5h0M296.5 205.8h0M298.5 205.9h0M304.3 200.8h0M298 188.4h0M300.3 206.5h0M294.2 187.8h0M306.9 193.7h0M304.2 199.6h0M305.9 190.5h0M306.2 184.4h0M303.9 197.9h0M294.1 206.5h0M295.9 192.9h0M301.5 195.5h0M297.4 194.3h0M303.3 186.4h0M305 187.6h0M296.4 201.6h0M299.1 184.9h0M296.8 204.4h0M293.7 199.7h0M303.9 212.8h0M296.6 214.9h0M304.9 219.1h0M299.5 224.2h0M298.5 223.5h0M301.1 227.7h0M297.1 207.6h0M301.4 227.1h0M284.9 195.9h0M269.6 198.7h0" stroke="#f07056" stroke-width="1.7"/><path d="M305.5 163.5h0M303.5 170.8h0M301.7 164.4h0M310.6 168.2h0M312.2 172.8h0M303.1 169.2h0M313.7 174.2h0M303.9 163.7h0M305.7 161.8h0M321.2 175.7h0M322.2 174.7h0M324.8 176.9h0M328.3 169.8h0M326.5 168.8h0M326.9 173.6h0M327.8 170.5h0M318.9 174.3h0M321.4 181.3h0M326.5 177.6h0M328.3 171.2h0M320.1 173.9h0M318.1 175.7h0M321.4 169.2h0M330.5 171.7h0M332 168.9h0M323.9 167.2h0M329 172.1h0M326.7 166.7h0M313.5 161.2h0M317.3 165.6h0M314.8 162h0M307.7 179.3h0M310.9 179.4h0M316.1 179.1h0M312.7 178.4h0M308.8 181.3h0M289.9 197h0M299.5 198.4h0M298.8 190.8h0M303.8 192.1h0M297.6 185.4h0M305.8 184.4h0M299.9 202.9h0M295.6 195h0M298.8 201.1h0M293.8 192.4h0M295.2 206.1h0M303.7 186.6h0M294.6 201.1h0M306.1 199.1h0M305.3 186h0M298.1 198h0M299.1 190.9h0M302.7 193h0M300.4 196.1h0M305.4 182.7h0M300.3 202.6h0M296.9 200.7h0M302.4 199.5h0M304.3 200h0M296.3 201.9h0M301.3 198.8h0M299.9 183.6h0M302.2 183.3h0M304.7 205.2h0M292.8 188.9h0M297.6 203.6h0M302.9 190.5h0M297.4 190.6h0M304 188.3h0M306.2 188.9h0M300.2 183.7h0M303.7 218.5h0M305.3 226.9h0M303.2 221.4h0M299.8 224.7h0M304.6 222.4h0M301.4 229.2h0M305.8 218h0M280.1 195.9h0M284.2 195.6h0M312.9 245h0" stroke="#f05f41" stroke-width="1.7"/><path d="M302.9 162.9h0M306.4 172.3h0M302.7 165.1h0M302 168.5h0M304.9 168h0M306.1 170.5h0M324 171.9h0M322.5 168.3h0M318.7 178.7h0M324.5 173.5h0M322.3 173.9h0M319.3 177.9h0M319.4 176.3h0M325.7 170.6h0M316.3 179.5h0M320.9 174.2h0M326.5 172.6h0M318.2 170.9h0M322.5 170.2h0M327.1 172.5h0M323.6 178.1h0M331.9 168.7h0M325.2 168h0M332.5 163.8h0M324.5 174.3h0M317.8 177.9h0M322 170.2h0M327.5 176.5h0M324.9 170.8h0M315.1 162.2h0M308.3 183h0M316.7 179.6h0M309.2 178.9h0M311.9 179h0M299.9 187.2h0M298.6 198.1h0M306.7 186.7h0M306.8 194.1h0M295.4 204.9h0M304.3 203h0M290.1 197.1h0M296.4 194.8h0M303 194.8h0M306.9 194.3h0M305.7 187h0M303.1 184.6h0M294.8 204.1h0M307.2 197.8h0M307 196.7h0M305.3 185h0M294.8 187.4h0M299.2 196.8h0M297.1 185.1h0M306.1 187.9h0M303.1 192h0M302.1 188h0M293 195.9h0M294.2 204.3h0M293.8 187.1h0M305.6 185.3h0M299.3 191h0M303.6 198h0M292 199.6h0M297.5 184.4h0M302.5 201h0M302.3 186h0M303.8 228.8h0M293.7 222.3h0M300.7 228.7h0M301.6 218.2h0M300.6 233.9h0M300.5 209h0M301.4 228.5h0M301.2 229.2h0M295.9 228.7h0M294.3 213.2h0M303.8 225.4h0M296.5 217.1h0M285.1 194.8h0M280.8 196h0M278.1 195.5h0M270.6 198.6h0M284.5 195.2h0M320 244.1h0M311.5 243.3h0M313.5 239.6h0M309.5 234.7h0" stroke="#ed5234" stroke-width="1.7"/><path d="M301.7 169.5h0M301.9 162.4h0M306.9 175h0M302.7 164.7h0M309.8 177h0M305.4 170.9h0M303.3 162.9h0M308.7 175.9h0M304.2 169.1h0M309.3 165.4h0M308.2 171.4h0M313.3 174.5h0M304.5 166.8h0M308.4 163.4h0M304.6 167.1h0M318.9 170.1h0M320.7 168.3h0M327.5 171.9h0M322.6 171.5h0M322.1 175.2h0M325.8 167.9h0M322.6 170.2h0M318.4 175.3h0M328.1 172.7h0M316.6 173h0M324.6 167.6h0M315.6 177.3h0M316.6 174.7h0M317.3 171.8h0M315 178.1h0M322.5 169.3h0M322.2 178.4h0M326.8 166.1h0M321.3 172.2h0M320.7 177.5h0M319.6 169.5h0M321.2 171.8h0M316.7 162.7h0M315.2 165.2h0M309.6 184.4h0M307.4 183.5h0M311.2 182.6h0M310.6 178.1h0M299.2 205.6h0M298.5 198.1h0M291.6 200.4h0M305.4 192.5h0M297.4 202.4h0M292.6 200.3h0M298.5 197.8h0M300.6 193.1h0M299.9 194.2h0M292.4 201.3h0M303 193.4h0M291.3 193.8h0M293.2 202.6h0M290.6 194.6h0M295.5 202.2h0M290.7 197.5h0M291.8 197.7h0M300.2 204.1h0M298.2 192.1h0M292.4 200.8h0M305.5 197.9h0M304.5 192.9h0M301.9 196.3h0M303.7 202.7h0M305.2 183.3h0M291.8 189.8h0M301.8 191.1h0M291.7 201.3h0M303.1 197.8h0M295.5 204.6h0M297.6 191.4h0M296.8 195.3h0M304.6 213.7h0M294.8 223.2h0M294.9 223.1h0M304.6 219.4h0M301.7 208.3h0M296.7 223.6h0M297.3 217h0M299.3 231.8h0M287.4 195.6h0M272.4 198h0M320 243.7h0" stroke="#e9472d" stroke-width="1.7"/><path d="M301.4 168.3h0M307.3 166h0M304.4 170.7h0M308.4 175.8h0M306.8 173.8h0M301.2 168.7h0M303.4 164.8h0M306.5 167.7h0M302.3 167.1h0M305.8 165.4h0M308.5 174.1h0M323.9 174.7h0M327.9 173.2h0M317.8 170.3h0M323 170.4h0M321.4 177.9h0M321 176.1h0M321.9 174.5h0M327.4 168.7h0M320.8 174.6h0M327.7 175.4h0M319.5 175.2h0M328.6 171.8h0M321.2 168.8h0M323.8 166.9h0M326.2 168.5h0M330.9 164.5h0M317.8 173.8h0M329.7 168.1h0M330 163.4h0M314.3 162.3h0M313.9 178.9h0M309.6 183.3h0M310.2 181.8h0M291.8 202.1h0M293.3 189.5h0M295.9 203.9h0M305.3 182.7h0M298.6 196.6h0M291.2 200.8h0M296.2 194.8h0M294.6 198.3h0M299.7 194.7h0M306.2 200.9h0M300.2 199.6h0M303.2 199.6h0M292.9 204.9h0M304.2 198.7h0M280.2 195.8h0M308.7 232h0M309.6 236.8h0" stroke="#e43c26" stroke-width="1.7"/><path d="M319.5 169.4h0M323.7 172.8h0M325.2 170.3h0M321 170.5h0M321.8 169.5h0M319.4 182.2h0M319 177.9h0M326.1 173.6h0M321.3 170.4h0M320.7 171.1h0M317.2 181.7h0M325.2 216.6h0M324.8 186.3h0M340 182h0" stroke="#db3323" stroke-width="1.7"/><path d="M315.1 187.1h0M329 213.6h0M330.6 195.5h0M312 217h0M317.3 201.9h0M317.3 193.7h0M330.4 209.3h0" stroke="#d32b21" stroke-width="1.7"/><path d="M342.8 182.7h0" stroke="#ca221e" stroke-width="1.7"/><path d="M333.4 195.3h0M315.9 181.7h0" stroke="#be1e1c" stroke-width="1.7"/><path d="M333.7 191.7h0" stroke="#b21b19" stroke-width="1.7"/></g>
<use href="#shA" transform="translate(253.9,127.4)"/>
<g stroke-linecap="round" fill="none" opacity="0.88"><path d="M434.9 239.4h0M428.1 228.7h0M426 216.3h0" stroke="#ed5234" stroke-width="1.7"/><path d="M443.8 241.8h0M428.8 219.3h0M415 196.3h0" stroke="#e9472d" stroke-width="1.7"/><path d="M438.4 245.3h0M440 240.2h0M436.3 238.6h0M442.8 240.7h0M418.1 198.7h0M426 201.7h0M416.2 198.5h0" stroke="#e43c26" stroke-width="1.7"/><path d="M438 244.8h0M437.7 244.2h0M442.4 246.2h0M439.8 245.3h0M442.1 246.4h0M432.5 238.8h0M444.1 246.3h0M439.7 245.8h0M424.6 202.8h0M418.9 200.5h0M422 188.2h0M427.2 187.4h0" stroke="#db3323" stroke-width="1.7"/><path d="M437.9 244.3h0M437.4 243.7h0M439.5 244.2h0M437 241.5h0M441.4 240h0M434.6 235.7h0M419.5 206.5h0" stroke="#d32b21" stroke-width="1.7"/><path d="M440.4 242.7h0M439.9 239.8h0M439.7 245.7h0M438.4 240.1h0M441.1 241.1h0M434 237.7h0M444.6 242.7h0M441.9 242.7h0" stroke="#ca221e" stroke-width="1.7"/><path d="M439.8 244h0M440.8 243.9h0M443.9 243.4h0M438 239.4h0" stroke="#be1e1c" stroke-width="1.7"/><path d="M441.4 244.5h0M443.5 242.8h0M440.9 244.3h0" stroke="#b21b19" stroke-width="1.7"/><path d="M438.6 240.8h0" stroke="#a61816" stroke-width="1.7"/><path d="M441.9 242.4h0M440.1 245.8h0M441 242.8h0" stroke="#9a1414" stroke-width="1.7"/><path d="M453.4 216.1h0" stroke="#8e1212" stroke-width="1.7"/><path d="M439 242.2h0" stroke="#820f0f" stroke-width="1.7"/></g>
<use href="#shB" transform="translate(-119.5,0)"/>
<g stroke-linecap="round" fill="none" opacity="0.88"><path d="M72.2 309.8h0M53.6 299h0M57.1 306.6h0M66 322.2h0M47.5 302.4h0M56.3 310.7h0M61.1 320.4h0M41 322.7h0M53.6 316.3h0M39.4 314.6h0M60.5 300.7h0M75.5 306.2h0M37.9 322.5h0M59.4 324.5h0M36 312.8h0M65.1 319.9h0M74.2 305.4h0M54.4 302.4h0M69.2 305.5h0M61.7 338h0M51.9 329.7h0M48.1 333.9h0M54.8 329.9h0M47.2 329.9h0M56.7 343.8h0M50.5 332h0" stroke="#ee9686" stroke-width="1.55"/><path d="M32.8 300.5h0M37.7 307.5h0M58.4 326.3h0M52.7 303.7h0M66 300.9h0M48.9 316.9h0M62.2 322.6h0M75.6 310.7h0M55.6 304.5h0M53.7 308.1h0M66.1 303.3h0M63.7 304.2h0M62.4 323.6h0M36.7 315.6h0M56.2 300.4h0M68.3 310.1h0M70.1 318.8h0M53.9 320.8h0M42.2 322.8h0M47.9 313.5h0M75 307h0M48.9 327.8h0M58.4 321.7h0M50.5 321.1h0M56 316.4h0M48.6 313h0M68.9 311.4h0M50.2 326.6h0M44.1 324.6h0M69.7 307.7h0M37.9 312.5h0M37.4 320.4h0M52.4 315.5h0M64.2 324.7h0M56.6 310.7h0M51.3 317.7h0M58.7 315.3h0M67.9 313.9h0M50.6 301.8h0M60.4 303.5h0M65.1 318.7h0M65.4 302.5h0M64.9 324.8h0M51.8 327.1h0M46.9 319.6h0M55.5 307.6h0M47.2 303.9h0M51.7 301.4h0M39.5 311.8h0M68.7 312.5h0M37.1 324.1h0M59.2 302.9h0M57.8 324h0M54.8 348.1h0M52.9 328.7h0M65.7 326.9h0M45.2 328.9h0M51 336h0M59.1 336.3h0M62.1 334.4h0M58.8 346.5h0M61.3 341.5h0M45.3 334.9h0M55.8 343.3h0M59 335.9h0M51.6 350.6h0M47.8 351.8h0M60.8 340.9h0M55.9 346.2h0M65.4 328.6h0M47.1 329.8h0M55.5 341.2h0M62.6 332.6h0M52.1 332.7h0M47.5 345h0M44.8 335.1h0M48.3 353.4h0M46.1 344.8h0M56 342h0M44.3 331.6h0M68.3 332.2h0M77.6 331.9h0M76.8 338.9h0M73 332.7h0M88.9 370.8h0M81 369.2h0M85.4 379.9h0M49.6 359.6h0M90.3 369.5h0M68.2 362.7h0M73.6 377.2h0M47.6 357h0M59.3 371.9h0M62.7 373.5h0M62.6 361.2h0M63.9 363.5h0M51.1 364.6h0M57.6 372.7h0M60.1 372.3h0M75 365.6h0M76.4 370.3h0M82.9 375.5h0M66.5 382.1h0M66.4 373.6h0M78.7 368.6h0M53.3 362.9h0M92.4 372.9h0M74.3 352.8h0M60.1 351.5h0M75.4 372.7h0M76.1 374.5h0M86.5 381.2h0M49.5 358.1h0M54.7 354h0M85.3 379.4h0M65.8 372.8h0M57 363.3h0M81.9 367h0M62.7 379.3h0M85.9 340.9h0M83 337.3h0M95.4 342.4h0M80.1 340.8h0M95.2 340.5h0M88.8 341.6h0M83.1 341.9h0M93.7 341.5h0" stroke="#f0816b" stroke-width="1.55"/><path d="M38.6 305.8h0M32.4 303.3h0M40.3 325.7h0M52.7 303.6h0M37.6 320.8h0M72 319.2h0M46.3 303.6h0M65.6 307.5h0M67 316.6h0M39 324.3h0M46.9 319.6h0M39.8 323.4h0M57.5 300.2h0M41.7 312.1h0M57 303.2h0M63.6 303.8h0M56.7 324.6h0M69.9 315.2h0M66.3 317.7h0M39 325h0M51.9 325.2h0M56.6 304.5h0M56 324.3h0M50.9 317.4h0M50.1 321.3h0M36.4 323.6h0M52.6 321.2h0M58.1 304.7h0M56.5 306.3h0M44.4 306.9h0M36.6 324.4h0M53.3 310.1h0M69.3 318.1h0M47.4 325.9h0M56.5 298.8h0M66.8 304.2h0M51.9 308.9h0M73.8 304.4h0M58.6 316.1h0M56.7 319.6h0M72.7 309.1h0M46.5 327.6h0M44.5 306.2h0M45.6 326.3h0M63 319.9h0M59.6 316.7h0M57.1 307.9h0M58.2 306.9h0M60.6 312.1h0M62.9 305h0M54.5 309.2h0M71.6 319.8h0M50.4 309h0M40 322.8h0M42.2 322h0M54 301.4h0M58.4 317.3h0M49.7 308.6h0M39.7 323.5h0M61.6 307.3h0M59.1 309.3h0M46.9 320.2h0M60.4 309.8h0M59.5 325.7h0M48.6 312.6h0M47.6 314.5h0M50.5 305.1h0M54.8 317.6h0M38.4 318.2h0M61.3 311.1h0M54.2 321.8h0M57.5 325h0M61.1 334.3h0M48.2 331.5h0M67.9 327h0M49.5 343.1h0M52 331.2h0M43.1 340.2h0M46.6 330.5h0M49.3 340.3h0M59.2 336.9h0M59.6 332.9h0M53.7 338.3h0M52 339.6h0M48.4 352.6h0M48.8 331.6h0M46 335h0M45.1 336h0M46.3 346.9h0M56.6 348.4h0M48.6 341.7h0M55.1 334.9h0M55.7 348.8h0M45 339.1h0M56.4 351h0M56.4 330.9h0M57.4 336h0M76.3 337.6h0M63.3 367.7h0M89 376h0M92.7 374.8h0M90.7 370.1h0M87 380.5h0M46.4 361.4h0M49.4 362.3h0M77.5 366.4h0M49.5 359.9h0M85.3 365.6h0M80.5 360.5h0M80.8 380.6h0M63.9 354h0M54.2 366.5h0M78.8 363.6h0M80.4 383.1h0M90.3 379.2h0M51.9 362.2h0M75.9 359.4h0M60.6 373.1h0M84.5 369.3h0M71.8 359.6h0M45.3 364.5h0M74.6 374.2h0M61.8 366.8h0M57.6 364.2h0M86.2 380.5h0M69.8 381.2h0M73.2 375.1h0M79.9 368.9h0M62.8 364.1h0M55.7 377.8h0M63.3 359.3h0M52.7 357.2h0M61.8 359.3h0M70.7 367.8h0M88.7 373.9h0M59.7 352.9h0M59.2 377.9h0M69.2 375.9h0M60 350.6h0M59.8 376.9h0M77.1 370.6h0M79.4 365.5h0M61.7 372.4h0M67.3 370h0M45 354.8h0M74.7 367.1h0M67.2 372h0M81.5 360.8h0M78.1 372.9h0M71.3 377.9h0M76.4 357.6h0M81.1 374.6h0M60.8 380.7h0M59.5 354.6h0M55.2 361.2h0M75.7 378h0M77.5 372.3h0M73.2 370.6h0M68 375.8h0M59.7 373.3h0M81.8 364.2h0M75.5 366.8h0M59.4 380.1h0M74.1 368.4h0M93.2 373.5h0M75 354.4h0M91.9 379.7h0M78.2 362.8h0M72.6 365.3h0M79.3 370.4h0M84.4 342.3h0M80.5 343.4h0M86.4 339.1h0M79.3 330.2h0" stroke="#f07056" stroke-width="1.55"/><path d="M39.2 308.2h0M35.9 301.2h0M42.2 304.3h0M22.5 296.9h0M39.7 302.7h0M35.8 309.2h0M60.1 309.2h0M62.5 310.3h0M65.7 302.5h0M59.4 297.7h0M62.4 302.7h0M64.1 299.4h0M67.1 315.9h0M65 323h0M59.7 311h0M50.1 315.2h0M45.5 327.7h0M58.4 321.1h0M63.9 319.1h0M70.9 319.4h0M55.1 308.2h0M63.9 297.5h0M53.6 317.9h0M53.4 314.5h0M47.7 316.1h0M65.6 318.1h0M57.1 318.5h0M59.9 305.5h0M62.8 310.6h0M68.7 314.2h0M53.7 311.8h0M66.2 303.5h0M42.6 319.4h0M67.1 321h0M63.4 323.5h0M74.9 316.5h0M47.6 318.8h0M70.4 302h0M44.1 320.2h0M62.6 298.3h0M65.2 324.6h0M69 307h0M55.4 327.4h0M52.8 305.3h0M44.1 316.2h0M58 326.8h0M70.1 301.3h0M60.3 306.8h0M71.5 319.9h0M72 316.3h0M72.3 320.9h0M44.4 316.1h0M62.3 316.4h0M46.4 308.8h0M69.4 299.2h0M60.3 310h0M67.3 317.7h0M63.7 311h0M58.1 335.7h0M60 331.8h0M44.2 329.7h0M46.6 343.5h0M47.4 339.9h0M48.4 340.1h0M54.8 350.2h0M51.2 342.5h0M61.7 327.8h0M47.7 351.5h0M57 347.6h0M45.8 351.8h0M41.7 338.5h0M49.1 333.5h0M62.9 327.2h0M52.5 335.3h0M52.7 336h0M48.8 343.5h0M51 352.9h0M48.3 344.2h0M47.5 347.8h0M48.2 353.2h0M46.2 353h0M45.3 352.6h0M49.6 332.7h0M71.7 340.6h0M63.4 343.8h0M61.7 375.1h0M75.6 364.8h0M74.1 360.3h0M54.1 371h0M60.7 358.8h0M83.7 362.4h0M76.4 360.8h0M67.1 360.3h0M62.9 369.4h0M53.1 356.7h0M65.7 358h0M57.2 358.7h0M58.3 379h0M84.1 377.8h0M84.8 370.1h0M86.3 371.5h0M59.4 376.2h0M74.5 357h0M86.5 374.8h0M70.6 368.5h0M90.2 370.5h0M67.3 357.7h0M60.1 380.7h0M62.8 381.2h0M57.7 361.6h0M70.4 362.6h0M75.7 383.4h0M78.7 380.3h0M67 361.7h0M74 373h0M54.7 353.8h0M69.5 374.3h0M69.9 356.2h0M81.3 360.4h0M72.9 369.2h0M76.5 359h0M71.6 367.8h0M75.1 369h0M87 368.6h0M58.3 362.4h0M79.3 378.9h0M87.6 365.2h0M80 356.2h0M78.1 368.9h0M86.4 378.8h0M67.6 362.7h0M77.8 370.1h0M67.6 373.2h0M66 370.6h0M75.1 359.3h0M74.8 353.2h0M63.6 371.5h0M80.3 335.8h0M91.2 339.8h0M85.8 340.7h0" stroke="#f05f41" stroke-width="1.55"/><path d="M27.8 301h0M31.4 303.1h0M36.6 307.2h0M35.4 301.9h0M57.6 306.2h0M57.7 306.9h0M65.6 308.6h0M36.7 312.6h0M68.5 300.8h0M70.2 310.5h0M53.7 300.4h0M62.6 311.6h0M46.3 311.4h0M54.3 316.4h0M36.3 313.3h0M56.1 300.4h0M64.4 320.3h0M44.3 307.3h0M41.7 326.4h0M60.4 324.5h0M64.6 326.1h0M70.2 318.5h0M65.1 298.4h0M40.7 327.8h0M55.7 302.5h0M54.4 309.3h0M44.5 307.7h0M73.6 307.7h0M55.8 320.4h0M48.8 312.6h0M42.8 316.4h0M51.8 312.7h0M55.7 324.7h0M54.7 325.1h0M37.5 324.7h0M56.4 301.8h0M62.4 327h0M64.4 315.1h0M53.6 322.1h0M44.9 322.5h0M59.1 304.4h0M39.6 314.8h0M73.3 304.4h0M66.8 319.2h0M70.9 318.3h0M41.5 318.3h0M63.5 300.8h0M38.9 313.3h0M58.3 299.3h0M69.6 319h0M49.4 310.9h0M36 323.7h0M48.7 327.5h0M58.1 319.6h0M69.3 309.8h0M55.8 317.9h0M64.7 324.2h0M56.9 319.1h0M41.5 322.8h0M59.4 310.7h0M71 300.9h0M60.2 308.1h0M45.4 339.4h0M47.7 347.5h0M66.9 329.5h0M53.6 339.8h0M62.2 337.8h0M53.6 351h0M46.5 343.1h0M56.3 348.1h0M56 345.6h0M62.9 327.7h0M46.9 350.4h0M59 335.7h0M66.3 326.9h0M59.7 332.9h0M57.5 347.7h0M63.2 333.3h0M42.2 335.9h0M54.5 337.4h0M50.7 332.4h0M54 333.1h0M44 334.5h0M52.1 328.7h0M60.8 336h0M49.6 346.4h0M64.2 334.1h0M61.1 327.4h0M49.8 338.9h0M76.9 342.6h0M72.9 377.9h0M75.6 382.4h0M72.1 369.5h0M53.6 358.3h0M63.3 360h0M57.1 377.2h0M73.5 365.5h0M70 375h0M67.7 354.4h0M68.5 382.4h0M89.2 368.9h0M68.7 351.6h0M58.6 355.6h0M60.4 350.8h0M44.6 359.5h0M50.8 365.8h0M82.3 358.8h0M57.5 368.2h0M74.1 381.4h0M85.9 379.4h0M54.7 368.4h0M82.3 376.4h0M49 368.1h0M76.1 382.8h0M76.5 362.1h0M65.8 352.6h0M68.3 373.6h0M80 363h0M91 377.7h0M69.2 352.6h0M69.3 366.5h0M55.8 370.6h0M84.2 379.1h0M70.8 361.1h0M46.9 365.6h0M56.2 362.1h0M73.5 359.8h0M55.9 358.4h0M70 371h0M59.4 353.5h0M61.7 371.1h0M67.4 362.5h0M72.2 361.9h0M73.2 368.9h0M76.1 375.3h0M69.8 357.5h0M73.1 379.6h0M63.8 352.5h0M96 340.6h0M82.2 338.2h0M89.3 340.2h0M92.3 339.4h0M84.1 337.6h0M85.5 343.5h0M80.9 331.8h0" stroke="#ed5234" stroke-width="1.55"/><path d="M43.4 305.9h0M36.4 306.3h0M29.4 299.7h0M35.2 303.1h0M42.4 308.3h0M38 304.9h0M56.1 320.4h0M59.7 304.2h0M53.8 326.4h0M60.7 299.2h0M38.6 318.4h0M59.1 317.4h0M60.8 307.5h0M62.6 308.6h0M47 324.4h0M65 321.2h0M63.5 316.4h0M53.9 304.5h0M54.9 308.3h0M52.4 300.1h0M40 317h0M57.9 321.2h0M54.7 318.3h0M60.7 303h0M49.5 323.1h0M40.6 323.3h0M68.8 306.3h0M49.7 317h0M39.6 318.9h0M44.9 326.9h0M68.7 324.4h0M65.6 318h0M64.5 303h0M46.3 325.1h0M46.1 312.3h0M43.6 328.4h0M58.2 319.7h0M59.2 309.2h0M57.2 312.6h0M69.3 299.1h0M52.8 301.4h0M73.8 313.7h0M53.7 326.3h0M68.4 302.9h0M49 323.2h0M61.3 306h0M70.9 320.4h0M67.5 298.6h0M53.7 307.1h0M74.6 310.5h0M62.1 299.5h0M70 318h0M57.2 322.2h0M50 322.7h0M51.3 307h0M57.5 327.5h0M60.1 302h0M54.9 300.2h0M57.5 319.4h0M60.1 299.4h0M73.7 303.3h0M51.1 312h0M50.3 335.6h0M51.6 342.7h0M49.2 337.2h0M49 331.4h0M54.4 349h0M55.2 346.3h0M43.6 338h0M47.3 337.4h0M58.8 340h0M45 351.1h0M55.1 336.1h0M47.6 349.4h0M59.2 335.4h0M58.3 339.9h0M60.3 336.2h0M52.2 343.2h0M60.4 343h0M41 331.9h0M42.2 340.6h0M53.6 349.7h0M58.2 339.6h0M61.1 332h0M65.8 331.7h0M59.5 342.7h0M43.1 337.2h0M61.2 341.5h0M62.2 327.4h0M47.3 330.5h0M41.6 337.5h0M63.2 336.6h0M62 328.7h0M50.6 333.3h0M56.7 339.5h0M59.1 346.7h0M51.9 351.8h0M47.1 337h0M64.2 335.1h0M67.4 367h0M45.1 354.2h0M74.5 356h0M70.8 355.9h0M62.4 367.7h0M82.7 358.7h0M90.4 379.5h0M67.3 359.1h0M46.1 354.2h0M71.9 369.7h0M51.7 357.1h0M57.6 379.3h0M54.5 363h0M49 364.2h0M70 382.8h0M85.9 367.5h0M78.9 380.1h0M77 370.1h0M64.7 372.9h0M83.1 369.2h0M52.2 371.6h0M70.1 370.4h0M45.4 358.3h0M59.6 371.2h0M55.3 376.7h0M55.7 355.8h0M53.8 355.4h0M70 353.2h0M77.2 379.4h0M51.4 370.6h0M72.7 355.4h0M71.4 365.1h0M76.4 357.6h0M74.9 371.1h0M73.4 374.9h0M52.2 361h0M87.7 366.1h0M52.7 360.1h0M62.6 350.6h0M54.4 373.2h0M85.1 370.2h0M61.5 376.2h0M47.2 364.1h0M68 372.6h0M80.1 370.4h0M76.8 382.1h0M81.3 378h0M62.5 367.4h0M89.4 369.3h0M68.4 373.9h0M77.2 360.9h0M75 355.4h0M81.4 360.8h0M55 373.5h0M68 380h0M62.4 365.8h0M69.4 370.2h0M66.4 364.7h0M69.9 362.1h0M82.1 377.7h0M84.8 375.9h0M57.7 364.4h0M80.8 341h0M93.2 339.4h0M80.2 330.8h0M82.1 332.2h0" stroke="#e9472d" stroke-width="1.55"/><path d="M53.7 310.1h0M57.1 326.4h0M54.7 317.3h0M49.7 326.4h0M58.5 310.2h0M38.6 326.2h0M57 305.9h0M57.5 316.4h0M74.7 304.3h0M38.4 319.3h0M64.9 300.8h0M55.8 324.4h0M39.3 327.6h0M63.1 317.7h0M64.5 312h0M46.1 319.6h0M38.4 322.8h0M44.3 311.3h0M43.9 321.7h0M56.1 301.2h0M69.8 317.9h0M55.2 319.9h0M38.9 318h0M51 314.4h0M61.2 329.9h0M60.6 329.1h0M51.2 328.5h0M56.9 335.3h0M51.8 341h0M60.4 346.2h0M52 348.1h0M54.9 335.1h0M47.4 332.3h0M55.7 346.9h0M62.6 337.4h0M65.3 330h0M50.9 359.4h0M60.6 374h0M71.3 355.1h0M57.1 376.1h0M86.4 374.8h0M46.8 363.1h0M85.7 364h0M82.8 361.3h0M65.8 370.2h0M67.8 355.1h0M90.8 368.7h0M91.1 370.1h0M82.3 359.5h0M54.6 365.5h0M54.4 372.5h0M69.6 355.7h0M61.2 357.6h0M66.9 378.4h0M76.5 381.5h0M65.4 370.2h0M56.2 357h0M87.8 374.1h0M57.8 376.7h0M58 361.9h0M80.9 365.9h0M55.9 362.3h0M91.7 374.6h0M67.6 355.3h0M68.6 358.1h0M71.5 364.5h0M45.6 360.9h0M77.2 359.9h0M77.1 370.5h0M86.2 365.3h0M81.4 362.1h0M83.1 379.7h0M61 379.3h0M83.1 370.4h0M82.5 360.6h0M59.6 378.7h0M84.5 378.6h0M75 379.2h0M79.9 359.2h0M47.2 366.3h0M54.8 372h0M72.1 360.8h0M58.7 358.7h0M74.7 363.1h0M46.8 363.8h0M54.2 374.2h0M83.1 364h0M58.9 353.8h0M54.5 355.8h0M63.9 359.1h0M65.7 357.2h0M76.4 363h0M65.4 356.2h0M91.3 379.3h0M72.5 383.4h0M75.2 359.5h0M64.4 362.1h0M71.3 371h0M69.2 372.9h0" stroke="#e43c26" stroke-width="1.55"/><path d="M80.5 378.3h0M71.3 357.9h0M59.1 372h0M65.9 379.2h0M80.6 368.7h0M69.5 356.5h0M56.1 372.2h0M64.6 369.5h0M58.7 351.1h0M81.5 379.9h0M81.5 363.1h0M80.9 375.3h0M79.2 361.9h0M64.2 364.5h0M74.7 360.6h0M59.3 358h0M65.4 356.3h0M75.6 369.7h0M78.5 380.9h0M77.1 372h0M71.2 354.6h0M55.2 375.9h0M77.1 366.3h0M63 358.6h0M46.3 364.2h0M46.6 360.9h0M64.4 373.5h0M67.2 353.3h0M61.3 359.1h0M54.5 371.7h0M85.3 373.5h0M80.4 380.4h0M46.3 365.8h0M70.5 381.4h0M59.7 379.4h0M47 355h0M56.8 377.8h0M88.4 369.8h0M74.3 358.2h0M86.3 363.5h0M73.5 364h0M67.4 359.5h0M56.3 362.9h0M63.4 367.9h0M64 377.3h0M76.6 374.6h0M57.3 379h0M61.7 357.3h0M82.3 364h0M60 371.8h0M56.4 373.9h0M71.6 380.8h0M87.2 370.8h0M73.8 366.8h0M60.5 364.8h0M64.7 365h0" stroke="#db3323" stroke-width="1.55"/><path d="M60.2 364.3h0M75.3 364.9h0M82.8 364.3h0M63.6 353.9h0M76.8 381.8h0M72.8 378.1h0M78.2 365.8h0M52.3 370h0M77.8 372.1h0M66.2 368.6h0M85.8 374.1h0M53.1 373.3h0M69.4 378.5h0M83.9 373.2h0M62.2 371.5h0M56.7 354.7h0M81.4 362.5h0M55.1 358h0M89.6 378.4h0M71.6 354.7h0M85.7 364.2h0M61.7 366.8h0M68.1 364h0M74.4 357.8h0M79.3 379.3h0M72.5 378.4h0M58.4 376.6h0M62.4 356h0M59.3 363.1h0M73.2 361.3h0M65.8 374.9h0M68.3 354.3h0" stroke="#d32b21" stroke-width="1.55"/></g>
<use href="#shB" transform="translate(0,0)"/>
<g stroke-linecap="round" fill="none" opacity="0.88"><path d="M183.6 379h0M199 366.8h0M177.2 367.6h0M204.3 367.9h0" stroke="#f0816b" stroke-width="1.55"/><path d="M185.4 353.4h0M179.5 359.8h0M170.8 364.7h0M185.5 373.1h0M188.5 360.8h0M192.3 381.8h0M190.3 371.8h0M203.2 362.4h0M193.7 360.4h0M181.9 369.1h0M179.2 370.5h0M208.1 374.2h0M190.4 353.8h0M206 381.4h0M194.5 361.9h0M192.5 380h0M192.6 359h0M178.5 372.7h0M202.2 373.5h0M200.5 374.8h0M197.6 360.4h0M181.1 373.2h0M195.2 370.4h0M198.6 369.8h0M207.9 372.4h0M191.1 368h0M181.5 368.9h0M178.9 367.7h0M197.5 357.3h0M211.9 375.1h0M197 380.9h0M188.4 364.4h0M185.4 374.7h0M193 366.4h0M190.6 377h0M179.6 356.3h0M209.7 376.5h0M194.6 375.2h0M189.5 370.5h0M186.4 380.4h0M203 371h0M195.9 355.1h0M207.6 370.3h0M181.3 373.1h0M203.7 377.4h0M201.8 376.9h0M197.9 376h0M194.5 366.2h0M189.1 364.3h0M186.8 373.8h0M190.8 378h0M181.5 376.1h0M201.7 375.4h0M184.2 356.4h0M206.3 364.9h0M188.2 362.5h0M209.2 376.2h0M191.7 356.1h0M192.7 376.1h0M182.3 366.4h0M180.8 376.3h0M181.4 367.9h0M191.9 378.7h0M186.1 353.2h0M211.6 377.7h0M184.4 365.4h0M197 379.8h0M190.4 368.3h0M204.9 369.5h0M199.7 374h0M187.8 359.1h0M195.8 356.5h0M202.6 381h0M182.1 377.4h0M185.5 358.1h0" stroke="#f07056" stroke-width="1.55"/><path d="M174.7 317.6h0M161.6 312.3h0M166.5 326.7h0M184.3 318.2h0M179.9 302h0M177.4 323.3h0M173.5 330.4h0M179 348.4h0M171.4 351.3h0M175.1 354.9h0M172 370h0M201.9 364.2h0M185.2 365.2h0M187.3 360.8h0M183.8 355h0M206.1 375.3h0M209.6 376.7h0M187 380.5h0M193.9 379.2h0M202.6 367.2h0M195.4 370.2h0M198.7 378.4h0M200.1 360.2h0M198 383.3h0M209.4 372.6h0M199.8 359.6h0M198.3 368h0M176 367.2h0M179.9 366h0M181.4 378.2h0M200.8 360.5h0M203.5 372h0M192.5 383.7h0M203.1 364h0M192.8 379.9h0M209.6 368.7h0M177.1 363.1h0M205.5 376.8h0M185.2 353.3h0M188.4 372.9h0M197.2 377.4h0M183.3 353.2h0M186 354.4h0M189.2 370.3h0M176.2 377.7h0M187.9 362.7h0M196.1 353.9h0M206.8 368.1h0M187.1 378.4h0M177.1 374.8h0M182.3 370.2h0M190.6 370.4h0M182 373.8h0M184.3 372.5h0M189.9 352.3h0M195.4 358.6h0M198 377.6h0M203.4 366.1h0M181.8 369.7h0M201 359.9h0M182.5 373.4h0M204.3 380.9h0M189.5 373.9h0M189.4 351.4h0M206.3 364.8h0M183.8 355.2h0M188.3 381.1h0M181.6 366.4h0M194.8 372h0M200.1 372.1h0M200.3 336.4h0" stroke="#f05f41" stroke-width="1.55"/><path d="M180.3 320.3h0M164.2 323h0M172.2 315.6h0M170.7 345.9h0M180.5 348.9h0M163.3 340.3h0M196.9 359.3h0M179.2 372.5h0M169.9 369.2h0M184.9 365.2h0M171.9 368.8h0M188.9 371.4h0M207.1 370.8h0M199.7 362.1h0M200 380.2h0M184.6 352.8h0M194.5 362.7h0M207.2 370.5h0M178.9 372.4h0M194.2 367.5h0M189.1 370.5h0M189.2 383.3h0M197.3 378.7h0M199.8 376.2h0M200.8 357.3h0M188.8 376.5h0M183.2 354h0M184.6 371.4h0M181.4 379.1h0M210.2 374.4h0M186.9 358.9h0M208.3 371.3h0M183.1 355h0M187.4 379.7h0M175.5 369.3h0M185 357.3h0M197.2 379.2h0M187.4 363.5h0M208 365.9h0M177.5 368.2h0M186.1 374.1h0M205.8 374.3h0M186.7 376.7h0M190.5 360.9h0M175 371h0M183.5 367.5h0M195.5 383.7h0M199.2 381.7h0M186.1 365.2h0M209.5 374.8h0M203.3 377.5h0M196.7 365.7h0M201.3 375.6h0M203.7 371.4h0M190.8 361.5h0M199.8 360.3h0M205.7 371.9h0M178.3 374.3h0M213.1 375.1h0M179.4 376.6h0M195.6 357h0M198.5 377.3h0M203.9 375.8h0M179.6 378h0M152 305.1h0M159.5 305.6h0" stroke="#ed5234" stroke-width="1.55"/><path d="M182.6 322h0M189.6 314.3h0M173 306.5h0M171 328h0M158.5 323.7h0M186.9 326.8h0M167.8 352.8h0M172 337.8h0M177 328.8h0M176.8 334.5h0M180.1 334.5h0M183.4 358.1h0M183.3 368.8h0M177.3 373.4h0M191.9 353.1h0M175.8 377h0M195.6 368.6h0M193.1 382.5h0M188.5 370.2h0M195.3 364h0M175.6 368.5h0M175.5 372.8h0M202.4 366.4h0M180.7 373.6h0M179.6 375.1h0M185.6 356.4h0M193.2 370.7h0M179.9 357.7h0M185.4 370.4h0M195.5 383.7h0M186.7 356.6h0M201.3 368.7h0M198.2 382.5h0M180.6 376.5h0M198 381.7h0M185.1 367.5h0M200.1 368h0M194.5 359.4h0M196.5 378.3h0M182.1 363.2h0M182 352.1h0M192.1 380.6h0M206 365.9h0M199.9 361.3h0M201.7 363.6h0M192.2 354.6h0M181.3 364.4h0M187.1 382h0M177.2 368.7h0M202 367h0M199.9 360.6h0M184.3 362.2h0M205.2 367.8h0M197.2 354.5h0M180.9 368.3h0M186.5 380.2h0M203.2 372.4h0M196.1 373.2h0M198.8 368.1h0M205.1 366.3h0M195.5 363h0M182.2 365.9h0M205 363.1h0M204.8 363.7h0M183.8 358.4h0M183 352.3h0M185.8 361.4h0M174.3 369.7h0M193.6 381.4h0M195 363.7h0M179 368.5h0M178 380.7h0M183.1 366.9h0M185.7 374.4h0M206.4 339.7h0M210.5 341h0M191 345h0M193.6 341.2h0M187.2 332.7h0" stroke="#e9472d" stroke-width="1.55"/><path d="M176.3 310.8h0M187.5 300.3h0M208 378h0M174.2 367.3h0M175.4 378.2h0M176.8 357.5h0M202.4 381.6h0M180.9 350.3h0M209 371.2h0M202.1 375.3h0M182.1 355.3h0M201.4 379h0M202.2 372.6h0M189.3 380.5h0M180.6 378.9h0M182.4 351.7h0M196.3 359.4h0M194.1 367.6h0M196.8 366h0M196.1 371.3h0M179.4 364.7h0M198.3 376.6h0M186.1 369.1h0M203.6 365h0M184.8 364.1h0M186.8 374.9h0M200.5 378h0M190.5 365.8h0M202.7 380.5h0M192.5 357.1h0M195.8 380.6h0M191.5 381.6h0M200.8 363h0M200.1 359.7h0M199.1 359.3h0M207.3 370.5h0M194.3 361.3h0M182.7 379.1h0M197.8 370.1h0M184.5 364.3h0M186.3 374.5h0M190.1 378.6h0M189.2 354.7h0M182.8 357.9h0M211.8 371.2h0M181.3 371.3h0M184 365.9h0M196.8 382h0M202 361.9h0M189 367.1h0M183.2 367.4h0M185.1 382.5h0M197.5 371.9h0M184.2 380.9h0M177.8 367.3h0M175.5 369.3h0M188.2 375.4h0M193.9 375.6h0M207.4 377.4h0M186.9 368h0M210 376.5h0M188.5 368.8h0M204.9 367.8h0M190.5 365.1h0M208.9 369.2h0M175.1 377.3h0M187.8 356.8h0M191.9 373.5h0M177.2 364h0M201 362.2h0M206.9 375.3h0M177.2 368.8h0M189.3 355.8h0M188.6 351.8h0M184.3 357.8h0M189.6 353.3h0M203.8 374.8h0M183.1 379.8h0M206.8 377.4h0M196.6 380.5h0M187.8 370.1h0M207.4 376.9h0M195.8 373.3h0" stroke="#e43c26" stroke-width="1.55"/><path d="M186.2 368h0M200.6 375.1h0M198.7 362.6h0M206.1 377.6h0M197.9 369.3h0M186.7 359.8h0M200.6 382.7h0M192.7 373.4h0M198.4 369.5h0M189 371.2h0M204.2 379.9h0M181 366.9h0M197.7 378.2h0M182.4 374.4h0M187.9 373.5h0M202 379.7h0M212.8 373.9h0M203.1 381.4h0M193.6 371.7h0M179.9 356.2h0M197.6 364.9h0M195.3 367.6h0M200.7 369.1h0M181 376.1h0M209.4 367.3h0M208.8 379.2h0M185.6 367.1h0M205.2 377.9h0M192.5 362.5h0M202.6 364.2h0M178.6 362.5h0M188.9 380.5h0M187.4 358.7h0M179.3 358.5h0M178.8 369.2h0M195.4 373.4h0M190.3 373.8h0M177.7 371.1h0M192 374.1h0M198.4 376.2h0M201.5 364.7h0M187.4 375.9h0M193.8 368.1h0M185.2 359.8h0M193 375.8h0M180.5 364.6h0M199.3 375.2h0M181.3 360.5h0M183.3 373.2h0M204.8 362.1h0M184.5 368.8h0M185.8 360.8h0M209.5 372.4h0M194.9 375.2h0M196.8 359.7h0M209.6 378.6h0M180.5 375.4h0M189.5 357.1h0M202.9 381.7h0M181 378.5h0M196.8 362.9h0M178.2 363.4h0M204.4 376.3h0M202.7 361.7h0M206.8 373h0M183.1 363.1h0M196.4 367.6h0M174.8 368.5h0M185.1 364.6h0M208 367.7h0M178.4 374.2h0" stroke="#db3323" stroke-width="1.55"/><path d="M184.1 365.2h0M208.9 371.6h0M192.7 371.5h0M200.5 367.7h0M201.4 374h0M187.5 380.7h0M180.6 354.8h0M186.6 364.2h0M185.1 375.9h0M186.7 367.4h0M196.7 364.1h0M199.4 357.7h0M209.4 377h0M183.5 363.5h0M177.6 368.8h0M186.1 376.9h0M181.9 365.8h0M189.6 370.8h0M191.3 368h0M197.3 356.9h0M202.8 373.1h0M178.1 359.5h0M196.4 360.7h0M202.2 372.2h0M183 367.5h0M196.6 374.9h0M181 367.9h0M186.4 379.3h0M190.9 378.7h0M182.4 377.8h0M185.6 377h0M175.4 368.8h0M183.2 354.9h0M188.3 362.4h0M191.5 375.5h0" stroke="#d32b21" stroke-width="1.55"/><path d="M209.2 369.7h0M193.9 375.5h0M212.7 374.7h0M178.5 366.9h0M181.8 374.5h0M181.5 358.4h0M183.4 360.6h0M207.2 370.2h0M203.9 375.5h0M192 353.1h0M197.4 359.4h0M209.8 374.8h0M189 356.1h0" stroke="#ca221e" stroke-width="1.55"/><path d="M199.7 368.6h0M193.2 356.8h0M182.9 378.2h0M195.7 356.3h0M181.2 359.6h0M182.4 364.9h0M198.1 361.1h0M194.4 361.9h0M196.9 379.5h0" stroke="#be1e1c" stroke-width="1.55"/><path d="M174.3 369.4h0M204.7 365.5h0M210.4 370.3h0" stroke="#b21b19" stroke-width="1.55"/><path d="M201.9 364.6h0M195 364.6h0M189.1 354.4h0M204.4 361.2h0M194.7 361.7h0M194.9 359.8h0M206.3 379h0M186 355.7h0" stroke="#a61816" stroke-width="1.55"/><path d="M181.2 359.6h0M200.3 377.9h0M183.9 374.5h0M179.9 376.8h0" stroke="#9a1414" stroke-width="1.55"/></g>
<use href="#shB" transform="translate(128.7,0.4)"/>
<g stroke-linecap="round" fill="none" opacity="0.88"><path d="M290.6 364.7h0" stroke="#ed5234" stroke-width="1.55"/><path d="M293.5 326.9h0M291.7 322.6h0M289.8 314.2h0M308.3 347.3h0" stroke="#e9472d" stroke-width="1.55"/><path d="M318.7 304h0M304.3 323.9h0M306 341h0M318.3 367.3h0M315.2 357.2h0" stroke="#e43c26" stroke-width="1.55"/><path d="M304 309.2h0M302.1 300.2h0M320.5 321h0M299.5 306.2h0M297.6 318.4h0M304.2 314.1h0M312.6 312.6h0M303.3 320.7h0M307 309.1h0M288.1 303.3h0M290.7 305.2h0M292.4 303.5h0M282.5 303.6h0M276.9 301.4h0M305.4 341.2h0M297.7 337.6h0M299.7 328.4h0M305.4 330h0M323.1 378.3h0M313.6 364.6h0M300.3 359.5h0M292.7 360.7h0M293.1 360.7h0M285.8 369.8h0" stroke="#db3323" stroke-width="1.55"/><path d="M293 315.1h0M294.1 311.4h0M319.2 303.3h0M301.5 300.5h0M286.1 311.5h0M289.6 306.4h0M270.8 298h0M301.4 351.6h0M301.5 354.1h0M334.5 366.5h0M331.2 368.5h0M318.5 371h0M293.5 366.5h0M323.4 371.3h0M323 359.9h0M325.3 381.8h0" stroke="#d32b21" stroke-width="1.55"/><path d="M296.9 320.3h0M309.3 305.1h0M284 323.8h0M273.9 299.1h0M309.4 339.8h0M293.4 341.6h0M302.9 339.9h0M341.3 376.5h0M317.3 364.8h0M301 364.3h0M336.3 379.5h0M323.2 378.6h0M307.8 373.2h0M309.8 378.1h0M309.2 375.4h0" stroke="#ca221e" stroke-width="1.55"/><path d="M313.2 312.1h0M295.7 308.5h0M302.2 322.8h0M314.5 301.7h0M289.3 321.9h0M286.3 311.6h0M310.6 333.6h0M298.6 336.9h0M332.8 362.6h0M319 366.8h0M303.2 364.6h0M340.3 343.9h0M343.5 341.2h0" stroke="#be1e1c" stroke-width="1.55"/><path d="M297.4 313h0M299.9 316.2h0M293.6 360.3h0M299.7 356.9h0M317.9 355.9h0M311.9 358.5h0M338.8 374.4h0M309.4 358.7h0M306 354.2h0M318.2 371.7h0M344.2 343.1h0" stroke="#b21b19" stroke-width="1.55"/><path d="M312.6 372.7h0M315.6 362.5h0M337.2 367.2h0" stroke="#a61816" stroke-width="1.55"/><path d="M301.4 356.7h0M314.1 356.3h0M309.5 378.1h0M344.8 342.2h0M342.1 339.7h0M341.5 343.7h0M344.2 342.2h0" stroke="#9a1414" stroke-width="1.55"/><path d="M341.2 341.1h0" stroke="#820f0f" stroke-width="1.55"/><path d="M344.2 342.5h0M343.6 342h0" stroke="#760d0d" stroke-width="1.55"/></g>
<use href="#shB" transform="translate(253.7,0.4)"/>
<g stroke-linecap="round" fill="none" opacity="0.88"><path d="M420.6 337.2h0M429 330.6h0M428.9 345.9h0M418.6 339.6h0M416.6 337.8h0M429.9 346.7h0M421.5 351.4h0M429.7 343.5h0M424.8 335h0M419.9 345.7h0" stroke="#f0816b" stroke-width="1.55"/><path d="M452.2 374.4h0M439.2 357.6h0M462.4 368.1h0M455.6 371.9h0M443.1 353.1h0M437.1 368.5h0M459.7 380h0M427.1 357.8h0M424.8 358.3h0M435.2 351.5h0M425.9 366.9h0M427.6 363.4h0M430.9 355.7h0M431 358h0M424.2 360.9h0M419.3 360.8h0M422.5 360.1h0M418.7 366.7h0M423.1 355.6h0M426.2 369.1h0M431.4 351.1h0M410.3 370.5h0M415 365.4h0M409.9 370.4h0M402.5 373.1h0M412.7 368.6h0M415.1 366.5h0M433.9 344.9h0M428.1 337.6h0M419.6 353.6h0M427.7 352.1h0M429 331.8h0M426.7 346.2h0M418.3 349.9h0M436.2 337.6h0M434 336.8h0M420.6 343.1h0M431 349.3h0M429.5 340.1h0M428.4 339.9h0M420.2 354h0M428.7 333.8h0M416.1 341.9h0M426.1 345.7h0M424.6 344.1h0M427.2 345.3h0M420.3 344.7h0M431.8 346.5h0M431.2 350.9h0M421 352.9h0M428.1 347h0M431.6 350.8h0M428.9 348.6h0M419.3 342.7h0M433.8 348.9h0M430.8 349h0M431.6 336h0M427.2 345.7h0M430.2 335.5h0M421.9 345.6h0M426.6 350.7h0M430 348.3h0M429.2 340.4h0M426.8 339.7h0M419.8 345.4h0M418.6 354h0M423.2 333.3h0M427.4 341.3h0M419.8 344h0M424.3 344.2h0M432.8 343h0M420.2 351.6h0M423.3 351.6h0M418.4 353.2h0M422 338.6h0M433.4 344h0M422 348.3h0M420.8 345.1h0M431.4 349.5h0M431.2 350h0M428 329.8h0M418.7 350.4h0M428.9 349.6h0M422.7 342.4h0M434 347.3h0M415.4 336.1h0M430.9 347.9h0M435.3 334.4h0M421.9 335.8h0M449.9 338.4h0M445.4 347.9h0M432.1 324h0M411.6 315.7h0M421.4 305.1h0M446.8 307.2h0M410.7 325.2h0M434 325h0M412 327.7h0M437.3 320.2h0M444.8 313.8h0M435.2 305.1h0M415.5 310.5h0M413.4 322.1h0" stroke="#f07056" stroke-width="1.55"/><path d="M442.6 356h0M435.7 367h0M423.8 365.9h0M447.5 354.6h0M453.2 366.5h0M441.5 377.2h0M445.4 382.9h0M434.1 381.1h0M461.7 367.6h0M428.4 358.8h0M422 354h0M445.3 354.2h0M442.1 356h0M451.3 381.9h0M446.2 368.6h0M419.8 359.7h0M426.1 356.5h0M458.2 380.9h0M437.1 352h0M460.8 378.4h0M433.3 365.5h0M447.2 377.9h0M438.9 366.1h0M457.3 364.6h0M436.9 382.6h0M424.1 367.6h0M424.1 353.9h0M422.9 366.9h0M425.5 363.2h0M425.1 356.6h0M421.2 365.8h0M422.9 355.3h0M432.1 355.5h0M420.1 364.9h0M427.1 374.2h0M421.8 353.8h0M423.4 367.3h0M418 358h0M427.7 371.9h0M427.5 375.5h0M426.5 372.6h0M425.4 367h0M423.7 356.5h0M419.9 366.8h0M426.1 360.5h0M423.4 367.2h0M434.7 353.2h0M420.2 367.4h0M425.7 356.6h0M423.8 371.2h0M422.9 368h0M424.5 369.7h0M421.5 367.9h0M422.3 355.3h0M427.8 369.5h0M421.3 356.4h0M418.3 360.4h0M429.4 359h0M420.1 366.9h0M445.4 363.2h0M456.3 376.6h0M446.7 353.1h0M447.7 371.4h0M445.1 367.2h0M450.8 360.9h0M434.2 376.1h0M444.4 354h0M461.5 377.9h0M463.8 372.6h0M446.1 358.4h0M451.1 364.2h0M458.4 372.4h0M439.8 354.6h0M444.1 362.8h0M457.8 371.3h0M429.2 372.5h0M439.8 364.9h0M430.3 376.7h0M447.2 373.2h0M442 354.8h0M441.8 354.4h0M451.3 375.1h0M441.2 373.3h0M440.8 358.3h0M450.5 355.1h0M436.7 358.4h0M449.9 367h0M446.2 360.3h0M438.1 357.3h0M450 379.7h0M430.8 371h0M456.7 382.1h0M442.1 353.5h0M438.7 365h0M460.3 381.2h0M440.2 364.1h0M441.2 376.4h0M432.5 372h0M436.7 375.8h0M438.3 365.1h0M444.1 366.4h0M437.9 380.3h0M449.6 365h0M439.6 373.1h0M453.2 357.2h0M446.5 356.8h0M444.9 363.7h0M438.4 353.5h0M429.1 375h0M450.2 356.3h0M455.5 364.7h0M440.4 378.8h0M451.7 357.2h0M446 363.9h0M450.5 380.7h0M434.1 369h0M451.7 376.8h0M441.1 374.8h0M449.9 359.3h0M437.3 382.2h0M458.4 362.2h0M454 376.7h0M436 354.4h0M441.9 372.6h0M440.9 355.6h0M459.9 374.5h0M456.6 380.2h0M438.4 367.4h0M454.9 367h0M453.8 364.5h0M462.8 378.5h0M450.5 361.9h0M444.7 375.7h0M439.7 371.5h0M452.4 376h0M439.6 382.2h0M449.3 372.9h0M446.7 366.8h0M451.5 370h0M449 369.8h0M439.3 375.8h0M444.5 381.6h0M435.9 357.2h0M450.4 380h0M454.8 360h0M445 353h0M448.8 374.3h0M435.4 372h0M454.3 376.5h0M456.4 365.7h0M456 380.6h0M445.6 375.6h0M441.5 355.6h0M441.3 368.3h0M444.6 376.6h0M438.7 352.7h0M445.6 379.4h0M456.2 363.3h0M462.7 380.7h0M436 354.9h0M437.8 379.8h0M463.1 380.4h0M435.6 373.5h0M448 377.6h0M450.8 367.8h0M453.4 359.6h0M453.7 369.9h0M438.2 368h0M447.5 353.2h0M441.4 371.8h0M463.9 378.5h0M439.9 379.2h0M451.9 380.7h0M448.2 374.2h0M443.7 354.9h0M447.4 376.5h0M430.8 380.4h0M450.6 374.1h0M433.3 378.6h0M444.7 377.9h0M449.8 377.8h0M451.3 373.8h0M459.2 368.1h0M448.3 367h0M437 377.1h0M430.2 360h0M408.2 371.2h0M418.2 366.2h0M402.8 373.7h0M407.9 370.5h0M403.9 372.5h0M415.9 365.2h0M408 370.7h0M417.5 366.2h0M414.5 366h0M416.4 365.2h0M413.7 368.8h0M429.9 347.3h0M416.6 344.9h0M424.9 352.3h0M431 346.1h0M425 345h0M420 348.9h0M429.6 346.3h0M419.1 336.7h0M435.8 335.7h0M431.9 350h0M428.8 347.7h0M427.4 343.5h0M423 346.5h0M421.1 350.8h0M435.7 334.5h0M428.8 349.2h0M428.4 332.6h0M422.1 346.2h0M422.2 341.4h0M426 351.5h0M418 349.7h0M427.5 346.5h0M435.4 335.9h0M432.5 346.3h0M417.1 341.8h0M418.5 353.2h0M428.8 346.2h0M421 349.4h0M432.9 345.3h0M429.9 346.1h0M426.4 349.4h0M420.2 345.6h0M418.1 349.9h0M430.4 348.7h0M432.9 342.5h0M420.5 347.8h0M434.9 335.6h0M427 349.5h0M422.9 349.9h0M416.3 337.1h0M427.2 341.2h0M436.3 330.5h0M419.7 333.9h0M422.5 352h0M418.3 345.5h0M416.7 343h0M418 348.6h0M428.2 349.7h0M423.4 351.7h0M418.3 336.3h0M429.3 347.4h0M419.2 334.2h0M415.6 339.2h0M420.7 353.7h0M425.1 349.4h0M424.3 342.8h0M424.4 343.2h0M422.3 353.3h0M431.2 340.7h0M426.6 350.3h0M430.1 351.4h0M417.5 343.5h0M432.8 343h0M417.3 344.5h0M433.6 341.3h0M443.6 324.2h0M442 341.2h0M435.9 323.9h0M426.6 318.9h0M410.8 324.9h0M440.7 318.6h0M428.1 317h0M435.6 299.4h0M443.3 305.6h0M412.9 314.1h0M447 311h0M444.1 322.8h0M431.7 324.6h0M447 316.4h0M431.8 322.5h0M440.5 318.3h0M441.2 320.8h0M469.4 342.3h0" stroke="#f05f41" stroke-width="1.55"/><path d="M447.9 373.6h0M427.7 372.1h0M432.3 353.5h0M444.8 358h0M450 381.5h0M459.9 378.6h0M461.4 376.4h0M444 365.1h0M422.1 360.2h0M430.2 375.1h0M445.4 367.2h0M427.1 359.2h0M441.5 369.3h0M444.8 368.1h0M465.6 377.8h0M443.7 364.4h0M445 361.7h0M454.8 383h0M458.4 365.5h0M429.6 363h0M424.9 361.9h0M448.5 370.9h0M429.5 352.2h0M423.5 355.8h0M424.2 360.8h0M428.7 356.3h0M421.9 364.2h0M422.8 370.2h0M429.4 355.3h0M429.8 355.4h0M427 357.1h0M423 367.6h0M422.8 354.3h0M429.1 361h0M422.6 365.3h0M422.5 369.9h0M423.3 370.7h0M422.7 358h0M429.8 353.1h0M423.8 367.8h0M422 359.8h0M418.8 359h0M429.8 359.2h0M419.9 361h0M424.1 362.7h0M431.2 357.1h0M421.7 357.2h0M424.1 369.7h0M424.9 355.5h0M425.2 371.4h0M419.4 362.8h0M435.1 350.5h0M419.6 354.8h0M427.2 354.6h0M426.7 358.3h0M426.2 372.9h0M427.7 376.1h0M424.4 363.9h0M429 360.9h0M426.1 357.1h0M421.7 356h0M431.4 359h0M462.9 379.9h0M452.8 381.9h0M462.2 375.3h0M460.8 373h0M453.5 360.8h0M436.9 359.5h0M441.6 377.1h0M449.6 382.4h0M435.1 360.7h0M443.9 360.1h0M436.8 353.6h0M439.1 378.6h0M439.9 363.7h0M436.9 382.1h0M436.3 369.5h0M432.8 356.5h0M457.5 369.1h0M448 377.5h0M454.6 382.7h0M445.9 369.3h0M436.7 365.8h0M464.7 370.5h0M451 362.6h0M433.5 360.3h0M430.5 361.4h0M464.8 371.7h0M441.8 352h0M451.2 367.6h0M452 372.7h0M435 381.3h0M450.9 370.7h0M430.5 359.3h0M459.9 377.9h0M445.9 367.4h0M449.9 368.5h0M461.7 381h0M453 370.3h0M443.1 383.1h0M448.7 355.7h0M435.7 366.7h0M430.2 371.5h0M440.3 366.9h0M444.9 364.3h0M451.3 363.1h0M453.7 362h0M440.9 377.9h0M458.5 369.4h0M434.7 381.5h0M438.2 379.2h0M453.3 375.6h0M435.8 361.3h0M456.2 382.4h0M443.4 358.5h0M439.8 381.7h0M433.2 366.1h0M432 381.1h0M438.9 361.1h0M436.3 368.6h0M441.7 361.3h0M452.2 363.7h0M461.7 365.7h0M463.1 370.1h0M437.6 364.3h0M445.8 366.6h0M445.8 368.2h0M448.3 356h0M434.4 365.7h0M463.4 379.1h0M454.6 360.9h0M452.1 371.8h0M434.8 359.2h0M443.7 359.8h0M434.4 372h0M454.4 380h0M449.3 376.1h0M439 380.3h0M430.5 368.1h0M455.9 364.6h0M432.2 363.4h0M432.2 360.4h0M457.6 366.1h0M432.5 357.7h0M447.1 362.6h0M440.6 352.9h0M452.1 380.6h0M435.7 362.4h0M455.8 363.2h0M450.3 363.1h0M437.4 375.4h0M444.2 352.9h0M452.9 363.5h0M438.2 366.3h0M430.7 363.8h0M449.2 360.8h0M448.4 358.2h0M440.5 365.1h0M441.1 362.7h0M444.3 363h0M432.4 381.7h0M444.9 383.7h0M435.7 375.7h0M441.1 362.7h0M450 382.8h0M430 375.8h0M439.3 355.5h0M440.8 380.3h0M462.1 375h0M442.1 371h0M440.7 355.5h0M441 380h0M445.9 361.3h0M441.7 380.6h0M458.8 371.2h0M462.7 381.1h0M450.2 372.8h0M459.5 376.8h0M436 375.7h0M453 367.4h0M456.5 360.5h0M452 375h0M445.8 364h0M429.2 374.6h0M447.5 357.3h0M440.4 373h0M448.3 367.7h0M437.4 372.4h0M454.6 373.1h0M444.1 369h0M455.4 371.2h0M461.4 371.1h0M409.7 370.7h0M410.6 368.4h0M404.7 373.1h0M407.6 370h0M416.7 362.6h0M412.1 369.3h0M417.1 367.9h0M408.3 370.4h0M418.6 367.1h0M415.7 366.5h0M414.5 368.8h0M405.8 372.2h0M421.4 352h0M418.7 351.1h0M419.5 334.6h0M436 330.5h0M425 346.8h0M420.4 342.4h0M430.1 343h0M429.3 348.6h0M434.6 337.1h0M428.3 348.5h0M421.4 337.1h0M428.5 351.3h0M423.1 350.4h0M431.3 350.7h0M416.8 341.1h0M422.6 333.2h0M430.2 348.7h0M424.5 349h0M416.5 339.4h0M418.8 352.5h0M425.5 352.9h0M437.7 332.2h0M426.1 345h0M419.6 345h0M428.9 340.5h0M422.9 350.9h0M423.8 338.3h0M419.8 348.6h0M417.5 347.4h0M427.8 347.5h0M430.8 350.2h0M425.7 337.1h0M423.8 339.8h0M423.5 351.5h0M421.4 350.3h0M419.6 343.3h0M422.7 335.2h0M425.9 348.8h0M427.2 346.7h0M424.2 348.2h0M429.8 338h0M425.9 351.6h0M415.1 335.5h0M432.9 347.7h0M419.4 352.6h0M429.6 335.8h0M419.8 344.8h0M419.3 351.6h0M424.8 343.4h0M422.2 353.6h0M428.3 347.5h0M432.3 341.4h0M431.3 345.8h0M422.4 345.1h0M420.6 343.5h0M424.8 344.3h0M421.7 337h0M419 344.3h0M418.8 340.1h0M433.6 341.7h0M427.8 352.3h0M424.6 348.7h0M428.6 336.8h0M427.5 351.6h0M437.2 327.4h0M425.1 351h0M441.3 336.7h0M445.4 341.7h0M443.6 328.8h0M422.8 310.2h0M427.7 311.4h0M419 327.9h0M429.9 306.2h0M431.9 313.2h0M428.9 313h0M433.1 306.7h0M424.2 313.9h0M414.3 327.5h0M417 316.5h0M428.3 312.9h0M415.3 320.6h0M405.1 304.3h0M394.2 296.7h0M413.6 305.4h0M410.5 301.8h0" stroke="#ed5234" stroke-width="1.55"/><path d="M441.8 374.5h0M443.8 368.7h0M464.7 375.3h0M424.4 361.9h0M451.4 369.6h0M450.9 373.4h0M453.5 379.4h0M429.3 362.9h0M448.5 380.3h0M448 357.7h0M447.9 383.6h0M453.9 375h0M445.9 374.1h0M437.8 376.1h0M426.5 369.9h0M455.4 373.5h0M439.2 364.5h0M451.7 365.1h0M441 373.3h0M429.5 367.4h0M439.2 378.6h0M427.1 368.7h0M435.3 352.2h0M423.7 360.7h0M426.3 370.3h0M429.7 354.2h0M425.1 357.4h0M432.3 355.5h0M424.6 364.8h0M420.8 365.3h0M426.2 357.2h0M419.4 360h0M427.3 358.4h0M423.1 357.9h0M421 366h0M427.2 375.2h0M418.7 366.6h0M425.7 357.2h0M423.7 369.5h0M432.3 350.9h0M420.1 354.3h0M425.8 370.9h0M420.9 354.2h0M426.1 359.1h0M428.2 365.7h0M429.5 361.6h0M420.3 360.8h0M419.3 357.4h0M420.6 367.5h0M449.8 366.6h0M456.3 366.2h0M441.3 371.8h0M435.2 357h0M458.5 366h0M452.5 366.1h0M453.7 380.8h0M464.2 379.3h0M459.4 363.3h0M436 366.1h0M447.3 353.5h0M446.8 378.4h0M439.8 381.9h0M437.4 366.6h0M430.8 376.3h0M460.3 373.6h0M451.2 362.4h0M453.4 363.8h0M448.6 373.4h0M460.6 371.6h0M433 371h0M441.8 370h0M438.5 365.5h0M463.9 369.6h0M448.6 369.6h0M447.2 353.2h0M456.4 376h0M435 381.9h0M434.1 372.2h0M442.3 363.6h0M445.7 369.1h0M432.2 356.6h0M464.4 374h0M464.3 379.8h0M449.2 367.2h0M461.4 380.1h0M439.1 376.5h0M448.9 371.1h0M437.3 373.8h0M438.8 376.4h0M447.3 361.8h0M449.3 381.9h0M438.7 366.1h0M461 365.3h0M434.1 377.3h0M440.1 376.2h0M460.8 380h0M433.5 381.3h0M461.6 375.7h0M440 356.1h0M436.6 362.8h0M445.4 362.4h0M462.2 379h0M445.1 366h0M447.8 381.2h0M453.8 375.8h0M452.9 364.5h0M429.8 378.4h0M429.5 378.3h0M446.7 368.7h0M433 359.1h0M458.9 371.9h0M433.2 358.3h0M459.2 381.5h0M456.8 372.8h0M438.8 370.4h0M459.4 374.4h0M444.9 353.2h0M442.3 370h0M455.1 382.5h0M464.9 378.4h0M435.4 369.3h0M448.8 368.8h0M431.2 366.4h0M449.8 358.1h0M449.2 364h0M445.8 361.1h0M445.4 383.2h0M435 380h0M437 368.5h0M446.2 373.4h0M452.4 363h0M449 364.9h0M441.1 376h0M446.4 358.8h0M434.4 378h0M441.9 366.1h0M455.6 375.9h0M436.2 375.8h0M438.1 372.6h0M456.7 362.6h0M455.1 381.2h0M447.8 367.4h0M446.3 355h0M445.2 378.7h0M451.7 358.3h0M450.8 373.8h0M447.6 381.4h0M437.5 369.5h0M442.2 367.6h0M444.4 367.6h0M441.7 356.7h0M437.1 376.6h0M441.1 374.1h0M433.3 369.2h0M454.2 367.8h0M457 366.9h0M443.5 377.2h0M440 353.7h0M440 371.6h0M439.5 369h0M444.8 379.2h0M457.4 363.2h0M440 356.4h0M433.6 375.1h0M449.1 380.2h0M453.4 379.9h0M437.7 371.2h0M458 379.9h0M445.3 365.1h0M432.6 365.9h0M446.7 372.4h0M446.5 375.3h0M458.7 367.1h0M434.1 364.8h0M449.1 370.6h0M416.6 362.7h0M417.9 365.7h0M411 369.5h0M417 362.4h0M403.2 374h0M413.8 365.9h0M417.1 367.4h0M415.4 367.3h0M407.6 371.9h0M411.1 370.4h0M414.4 369.2h0M410.5 369h0M418.4 337.3h0M428.9 342.3h0M426.5 346.8h0M426.8 350.3h0M419.3 353.3h0M425.2 351.7h0M433.2 348h0M418.9 348.7h0M414.9 337.4h0M419 351.7h0M422.6 350.6h0M424.2 336.5h0M439.1 329.6h0M421 350.3h0M429.3 350.2h0M421.1 346.7h0M428.5 345.7h0M424.7 339h0M429.1 350.7h0M422.4 346.5h0M433.7 342.8h0M422.9 329.9h0M427.4 338.9h0M421.4 336.5h0M425.2 350.1h0M420.4 353.4h0M419.6 353.1h0M430.2 346.7h0M432.9 340.1h0M424.7 351.5h0M430.7 349.6h0M434 344.2h0M421.6 351h0M433.8 348.3h0M419.2 351.8h0M420.4 347.5h0M428.5 350.5h0M431.1 331.1h0M420.5 343.4h0M417.2 340.9h0M430.9 343.4h0M420.8 352.1h0M425.3 346.2h0M429.8 343.8h0M422.8 346.9h0M416.9 342.8h0M427.7 340.3h0M427.4 336.2h0M431.9 343.6h0M427.8 339.5h0M419.4 346.5h0M425.1 352.7h0M427.7 348.4h0M432.1 346.5h0M420.8 344.9h0M424.7 337.3h0M418 349.9h0M434 342.4h0M423.8 346.3h0M423.9 348.8h0M425.1 353.1h0M420.4 346h0M430.9 348.7h0M415.5 339.4h0M433 340.3h0M444.8 337h0M446.4 341.9h0M446 333.4h0M446 317.9h0M408.9 309.9h0M455.3 344.3h0" stroke="#e9472d" stroke-width="1.55"/><path d="M458.7 378.9h0M457.7 378.9h0M436.7 382.5h0M450.2 377.6h0M441 358.1h0M442 361.2h0M439.1 362.1h0M431.2 367.7h0M427 373.6h0M465.3 380.2h0M438.9 369.8h0M444.9 382.6h0M433 378.5h0M463.3 371.2h0M459.7 364.8h0M447.7 357.8h0M440.4 370.3h0M435.9 361.4h0M461.3 367.1h0M448.7 365.1h0M462 373.4h0M428 376.5h0M437.6 362.9h0M442.7 365.9h0M442.8 356.9h0M461.6 367.3h0M445.2 375.8h0M424.2 365.9h0M423.4 361.9h0M427.7 364.7h0M435 350.4h0M424.2 354.2h0M427.1 374.6h0M426.3 373.5h0M419.9 368h0M420.2 367.7h0M423.4 366.5h0M425 363.1h0M424.7 364h0M427.3 364.7h0M430.6 353.9h0M427.6 365.9h0M430.6 354h0M445.2 368h0M443.5 380.5h0M448 376.3h0M454.7 379.3h0M447 356h0M437.1 368h0M456.8 379h0M442.4 382.9h0M442.9 366.3h0M460.4 364.3h0M441.6 368.3h0M431 373.8h0M440.3 355.1h0M440.5 374.1h0M443.4 366.9h0M449.2 355.4h0M435.2 363.4h0M431.1 361.8h0M436.4 362.5h0M444.6 358.2h0M449.1 358.6h0M457 364.4h0M439.5 373.9h0M446.9 371.9h0M453.9 367.1h0M430.6 366.5h0M447.4 359.3h0M456.3 369h0M431.4 368.2h0M456.1 374.4h0M436 368.7h0M433.9 372.1h0M434.4 362.1h0M440.9 358h0M442.3 361.1h0M455.5 380.7h0M441.8 367.8h0M439.6 379h0M439.3 382.5h0M455.2 372.6h0M435 377.2h0M453.8 377.2h0M453 371.8h0M434 368h0M452.7 361.8h0M458 371.8h0M448 374.6h0M446.8 373h0M432.7 362.2h0M442.2 361.3h0M450.2 360.8h0M434.7 370.3h0M456 369.4h0M436.9 354.8h0M451.2 370.1h0M452.3 363.8h0M441.7 354.2h0M447.9 363h0M438.8 355.7h0M449.3 364.6h0M441.8 357.2h0M432.6 379.7h0M448.4 360.2h0M438 371.2h0M446.5 377.2h0M440.7 363.1h0M455.8 379.3h0M448.6 356.8h0M437 367.3h0M449.9 378h0M441.1 357.3h0M436.8 374.2h0M458.5 375.3h0M437 360.3h0M463.4 373.5h0M437.5 359.7h0M432.4 379.6h0M434.4 354.9h0M451.5 381.8h0M448.4 373.2h0M440.5 377.1h0M456.5 366.4h0M453.1 357.2h0M450.8 371.9h0M449.4 372.5h0M428.7 367.4h0M460 381.4h0M432.6 380.4h0M446.2 365.1h0M441 383.4h0M438.2 360.9h0M457.1 370.5h0M455 361.8h0M433.3 377.6h0M446.2 364.9h0M438.7 382.7h0M439.4 358.6h0M450.4 359.8h0M462.9 370h0M451.4 376.6h0M450.2 356.1h0M449.4 365.5h0M436.9 373.5h0M457 376.6h0M432.2 361.1h0M432.3 372.3h0M443.9 356.8h0M443.9 376.5h0M444 370.8h0M434.8 377.9h0M448.1 373.4h0M457.1 371.6h0M446.4 354.5h0M465.9 372.8h0M432.6 372.2h0M439.7 371h0M442.5 364.2h0M438.9 382.5h0M435.6 357.9h0M434.6 364.8h0M435.7 353.5h0M451.7 357.6h0M464.4 370.5h0M457.2 379.5h0M446.9 377.6h0M429.9 374.3h0M440.4 365h0M438.7 373.3h0M452.9 372.8h0M428.8 374.5h0M440.5 363.9h0M414.5 369.2h0M404.6 373h0M414.3 366.3h0M407.5 372.4h0M411.8 367.9h0M415.8 367h0M412.6 367.5h0M406.7 371.2h0M415.9 367.6h0M425.6 339.7h0M418.8 353.1h0M427.8 348.7h0M423.5 349.9h0M430.2 339.4h0M416 342.7h0M420 342.7h0M420.6 340.9h0M424.3 344.7h0M419.2 350.4h0M434.7 340.2h0M421.7 346.7h0M419.7 353.4h0M420.5 346.7h0M424.2 352.8h0M423.3 352h0M434.2 341.9h0M421.7 351.6h0M420.5 349.4h0M428 345.9h0M416.3 341.4h0M420.9 352.2h0M418.4 340.1h0M424.8 332.9h0M418.9 350.3h0M429.5 345.1h0M426.1 350.2h0M420.8 348.7h0M434.2 349.6h0M419.4 345.6h0M429.9 345.1h0M417.1 332.7h0M400.3 300.6h0M462.6 342h0" stroke="#e43c26" stroke-width="1.55"/><path d="M418.5 354.8h0M439.2 363h0M428.1 353.3h0M454.5 358.1h0M437.7 369.3h0M440.7 378.1h0M446.5 356.4h0M429.4 352.4h0M455.3 374.2h0M427.7 366.1h0M461.9 375.6h0M434.6 371.7h0M438.8 355.6h0M459.7 372.7h0M443.5 361.1h0M433.1 371.4h0M449.5 354.8h0M463.4 373.9h0M430.7 359.3h0M441.6 352.4h0M446.7 356.4h0M443.9 370.4h0M446.4 355.3h0M432.1 370.4h0M440.2 372.4h0M436.3 363.9h0M431 375.3h0M447 358.8h0M464.4 371.3h0M440.6 380.3h0M437.4 381.1h0M441.9 374.6h0M450.1 364.1h0M458.2 366.9h0M449.6 375h0M438 371.6h0M439.7 377.5h0M460.9 376.3h0M437.3 358.9h0M448.9 364.9h0M445 364.4h0M459.1 374.3h0M439.6 365.4h0M441.4 366.1h0M435.7 381.8h0M447.5 373.8h0M443.7 364.8h0M461.7 370.5h0M439.4 373.1h0M463.6 370.4h0M432.5 361.6h0M452.2 369.2h0M445.2 381.3h0M429.5 369.2h0M432.8 358.7h0M451.8 369.8h0M431.2 375h0M444.3 353.7h0M438.4 361.5h0M437 379.8h0M439.5 351.7h0M457 380.4h0M446 378.2h0M438.2 372h0M445.5 366.5h0M452.1 362.7h0M453.5 380.6h0M456.3 375.2h0M447.7 370.5h0M441.3 353.9h0M452.6 382.6h0M462.6 370.6h0M451.5 361.9h0M456.6 375.3h0M441.6 361.8h0M452.3 377.5h0M437.5 357.7h0M430.9 366.2h0M447.8 374.6h0M450.5 364.7h0M433.8 361.9h0M456 363.8h0M428.7 367.8h0M451.4 374.1h0M447.8 367.8h0M449.6 369.2h0M452.7 357.7h0M443 370.7h0M451.6 356.7h0M433.6 361h0M450.9 377.9h0M456.1 359.9h0M441.5 355.4h0M432.6 375.6h0M457 369.8h0M440.9 364.4h0M439.6 376h0M431.7 365.2h0M442.3 378.6h0M459.6 377h0M430.4 379h0M444.5 382.7h0M448.6 371.7h0M452.5 381.5h0M437.6 371h0M429.5 369h0M460.8 375.3h0M442.2 368.5h0M441.8 359.8h0M455.4 360.9h0M432.9 372.2h0M435.2 366.5h0M447.9 373.1h0M435.1 377.7h0M441.3 353.1h0M466 373h0M445.1 379.5h0M464.5 379.7h0M441.2 368h0M450.4 380.4h0M455.5 362h0M455.3 381.5h0M461.4 365.2h0M432.6 364.6h0M441.8 380.7h0M432.9 368.5h0M441.3 367.7h0M440.5 355h0M431.6 365.4h0M432.1 367.1h0M440.9 353h0M444.9 376.9h0M431.8 356.6h0M430.8 370.6h0M466.2 374.6h0M442.8 380.7h0M444.6 369.3h0M453.9 380.1h0M442.8 375.3h0M428.1 372.9h0M460.5 371.4h0M445.6 352.8h0M433.7 379.7h0M436.7 368.4h0M444.9 363.1h0M436.9 363.7h0M442.3 380.4h0M432.9 375.7h0M451.8 362.8h0M458.8 379.4h0M449.9 383.3h0M447.6 359.8h0M429.7 369.4h0M449.1 358.5h0M442.9 371.4h0M439.9 359.9h0M451.6 380.4h0M462.7 374.3h0M463 377.7h0M460.5 370.2h0" stroke="#db3323" stroke-width="1.55"/><path d="M431.4 373.9h0M457.8 368h0M445.2 355.4h0M453.6 379h0M441.1 367.1h0M445.6 379.3h0M441.2 363.1h0M437.6 357.4h0M465.2 377.6h0M445.2 370.2h0M438.7 363h0M435.9 353.2h0M437 358.7h0M446 369.8h0M459.9 375.7h0M433.2 377h0M461 377.1h0M456 375h0M440.6 379.8h0M439.8 376.9h0M456.8 372.8h0M455.8 370h0M436.8 362.5h0M447.7 353.4h0M433.4 362.6h0M455.1 365h0M436.4 365.8h0M432 365h0M452.8 363.1h0M435 372.2h0M452.6 381.1h0M436.2 362.1h0M445.7 381h0M438.3 359.2h0M454.3 379.5h0M446.7 363.2h0M451.1 368.6h0M451.8 381h0M449 369.2h0M429.4 369.7h0M456.8 366.3h0M437.6 358.7h0M452 374.7h0M450.8 378.8h0M453 359.5h0M456.8 366.2h0M433.5 356.8h0M433.5 377.5h0M436.8 352.9h0M437.3 351.9h0M461.2 366.8h0M446.4 368h0M430.6 379.2h0M451 376.9h0M440.6 383.1h0M430.7 372.7h0M445.1 373.6h0M430.9 377.7h0M453.9 364.2h0M446.5 375h0M452.9 382.2h0M435.2 364h0M445.1 365.9h0M443.6 355.7h0M443.2 382.3h0M462.5 367h0M454.7 359.2h0M462.9 372.6h0M456.9 371.8h0M456.2 377.5h0M457.4 380.3h0M455.4 368.7h0M458.1 366h0M460.4 368.1h0M456.6 373.8h0M452.3 380h0M461.2 368.4h0M452.9 381.7h0M461.8 374.5h0M458.5 368.7h0M454.3 381.4h0M464.4 379.1h0M462.6 380.1h0M464.1 375.5h0M461.4 380.2h0M458.3 364.7h0M459.1 366h0" stroke="#d32b21" stroke-width="1.55"/><path d="M437 377.8h0M451.6 372.9h0M443.8 372h0M433.8 357.6h0M440.4 362.9h0M443.9 366.4h0M441.4 361h0M451.9 380.8h0M457.8 369.5h0M456.7 381.9h0M460.5 378.1h0M462 367.6h0M453 378.9h0M461.2 371.7h0M458.6 373.7h0M465.7 371.9h0M464.8 376.1h0M451.9 381.9h0" stroke="#ca221e" stroke-width="1.55"/><path d="M436.2 380.3h0M453.9 360.5h0M445.5 371.8h0M455.3 376.3h0M459.8 373.8h0M428 372.2h0M454.1 358.8h0M450.8 363h0M461.4 371.8h0M436.7 352.1h0M465.3 372.1h0M435.6 355h0M439 354.3h0M450.9 364h0M441.4 355.3h0M460.3 367.7h0M466.5 374.8h0M464.4 377h0M450 380.2h0M461.4 371.7h0M460.9 369.5h0M457.6 374.9h0M458.7 364.4h0M465.4 373.9h0M459.9 375h0M456.3 380.4h0M463.7 375.7h0M458 364.9h0M460.1 364.5h0" stroke="#be1e1c" stroke-width="1.55"/><path d="M454.6 376.5h0M455.5 371.4h0M444.9 353.1h0M441.2 356.6h0M428.4 368.8h0M438 378.2h0M433.6 380.6h0M436.8 379h0M440.1 374.7h0M447.3 372.3h0M443 375.5h0M438.7 358h0M448.7 362.5h0M452 376.6h0M461.8 371.6h0M454.1 371.8h0M456.7 367.2h0M461.2 366h0M453.3 382.4h0M465.2 372.3h0M459.1 365.3h0M453.3 375.3h0M459.1 380.4h0M460.8 381.9h0M466.6 376.1h0" stroke="#b21b19" stroke-width="1.55"/><path d="M429.1 378.1h0M463.1 372.5h0M463.1 380h0M458.8 363.4h0M435 368.7h0M439.4 360.1h0M438.1 373h0M455 376.7h0M450 354.6h0M454.3 371.7h0M432.5 380.1h0M431 373.8h0M449.8 354.5h0M430.8 361.2h0M465.9 377.6h0M464.5 369.8h0M463.5 369.7h0M463.7 379.4h0M460.9 365.8h0M457.6 380.5h0M458.6 381.6h0M460.8 369.1h0M454.1 381h0M464.1 369.4h0M465.7 375.7h0M459.9 380.4h0M455 382.9h0M458.4 364.7h0M459 371.9h0" stroke="#a61816" stroke-width="1.55"/><path d="M461 369.4h0M437.3 361.5h0M443.8 380.4h0M461 367h0M456.1 363h0M460.9 373.6h0M454.4 371.4h0M451.4 381.6h0M459.5 378.1h0M454.1 377.2h0M461.3 372h0M466.4 374.9h0" stroke="#9a1414" stroke-width="1.55"/><path d="M463.6 368.4h0M466.8 375.4h0M461.5 379.4h0M465.4 375.8h0M461.4 369.8h0M457 375.8h0M459.3 371.7h0M451.6 382.5h0M459.5 366.3h0M459.6 364.9h0M457.7 378.3h0M454.6 373.2h0" stroke="#8e1212" stroke-width="1.55"/></g>
<use href="#shB" transform="translate(-119.4,126.1)"/>
<g stroke-linecap="round" fill="none" opacity="0.88"><path d="M84.2 488h0M65.5 487.2h0M77.5 507.1h0M64.5 478.6h0M61 481.3h0M61 506.7h0M60.9 486.9h0M45.5 481.2h0M51.5 495.4h0M64.5 480.8h0M48.9 492h0M63.2 486h0M47.9 484.6h0M82 507.1h0M79.7 488.3h0M64.2 497.3h0M59.4 499.2h0M73.9 479.4h0M79 508.5h0M82.1 484.9h0M92.1 504.8h0M61.6 475.5h0" stroke="#f07056" stroke-width="1.55"/><path d="M43.4 489.6h0M39 495.7h0M40.6 495h0M42 460.8h0M52.9 469.8h0M58.7 475.3h0M60.3 465.8h0M54.2 465.6h0M59.1 459.5h0M52.5 476h0M61.1 467.8h0M54 472.4h0M57.5 474.9h0M46.3 469.3h0M52.7 473.4h0M58.6 474h0M54.8 493.3h0M78.9 508.9h0M64.4 481.5h0M88.8 499.8h0M53.8 486h0M78.8 498.6h0M91.2 500.9h0M46.9 487h0M72.9 497.9h0M78.1 508.7h0M72.2 486.6h0M48.1 486.8h0M78.2 481h0M73.6 485.8h0M59.5 506.3h0M64.4 490.4h0M59.1 499.8h0M85.6 498.1h0M55.1 498.6h0M54.6 478.6h0M70.2 491.3h0M54.5 495.8h0M53.7 486.6h0M66.6 493.7h0M53.3 489.8h0M78.1 487h0M68.9 487.1h0M74.3 507.4h0M76.2 507.9h0M64.8 507.8h0M65.9 502.1h0M69.3 497h0M56.7 498.2h0M88.2 505.5h0M67.8 501.3h0M92.1 499.8h0M75.9 492.3h0M65.6 505.4h0M56.8 500.5h0M53.1 488.7h0M66.3 479.8h0M89.6 507h0M63.5 479.9h0M81.4 507.5h0M62.2 498.3h0M59.2 489.6h0M59.5 497.8h0M69.6 497.9h0M67.9 507.3h0M62.3 441.6h0M53.7 429.7h0M58.3 429.8h0" stroke="#f05f41" stroke-width="1.55"/><path d="M40.9 493.9h0M33.9 497.3h0M43.9 493h0M34.6 495.8h0M39.7 495h0M44.9 492.4h0M43.1 490.1h0M60.5 475h0M49.8 471.5h0M55.1 478.1h0M46.3 478.2h0M56.3 474.9h0M47.9 471.2h0M51.2 471.7h0M51.4 476.5h0M43 458.5h0M53.1 466.3h0M46.9 462.1h0M49.5 468.8h0M45.2 475.1h0M48.3 479.4h0M46.4 477.2h0M52.2 474.3h0M43.7 470.4h0M58.1 499.5h0M63.8 500h0M56.2 483.2h0M45.7 491.3h0M52.1 489h0M76.2 500.2h0M64.9 482.4h0M61.7 484.6h0M61.7 481.2h0M44.4 487.8h0M63.3 508.1h0M62.6 484.7h0M63 488.8h0M45.5 491.7h0M79.7 492.9h0M81.5 497h0M75.7 486.9h0M82.5 491.6h0M65.3 501.7h0M91.4 503.1h0M84.2 504.6h0M66.2 480.5h0M88.3 498.7h0M53.4 485.1h0M62.4 493.9h0M87.1 493h0M55.9 482.9h0M45.2 490h0M85 501.3h0M73.2 479h0M75.8 483.3h0M81.4 508.8h0M46.4 489.7h0M71.7 507.3h0M68.3 490.7h0M59.6 490.6h0M52.2 496.4h0M84.8 498h0M57.5 496.3h0M85.6 499.4h0M56 504.4h0M52.6 492.9h0M78.3 490.7h0M45.8 481.9h0M59.3 478.4h0M56.2 496h0M63.1 499.1h0M65.4 504.6h0M88.5 507.1h0M90.4 501.2h0M70 487.2h0M81.5 495.4h0M71.9 491.7h0M58 502h0M66.3 501.2h0M53.9 480.4h0M50.4 429.8h0M40.8 448.3h0M54.6 440.2h0M66.6 438.2h0M43.8 447.8h0M59.4 453.7h0" stroke="#ed5234" stroke-width="1.55"/><path d="M34.5 497.4h0M41.9 491.3h0M42.7 490.9h0M44.4 488.4h0M42.4 490.4h0M43.6 488.3h0M38.7 495.9h0M34.9 496h0M50.1 477.6h0M58.1 468.8h0M58.4 469.1h0M53.6 468.9h0M46.4 477.6h0M57.2 466.9h0M45.5 477.1h0M47.6 475.5h0M56 466.4h0M59.8 464.4h0M46.8 472.6h0M51 478.7h0M53.3 470.1h0M47 473.7h0M55.3 472.5h0M59 474.4h0M56.3 474.8h0M50.7 474.4h0M58 463.4h0M53.5 474.9h0M50.9 472.7h0M50.8 474h0M59.4 496.3h0M51.1 489.4h0M77.5 505.4h0M52.5 481.3h0M66.9 483.1h0M62.3 500.8h0M65.1 492.4h0M64.6 485.3h0M60 479.7h0M74.4 490.1h0M78.5 488.3h0M87 504h0M74 497.2h0M55.5 496.1h0M65.9 489.4h0M88.8 504.8h0M86.4 491.6h0M53.7 497h0M58.3 496.9h0M77 480.2h0M60 490.9h0M62.6 503.3h0M78.4 490.3h0M60.1 506.1h0M76.4 502.1h0M48.3 494.1h0M88.1 493.9h0M91.7 501.1h0M68.9 504.4h0M65.8 484.6h0M46.5 482.9h0M76.3 489.2h0M72.8 504.2h0M77 486h0M81.2 492.3h0M51.6 481.1h0M71 483.8h0M49.2 490.1h0M72.1 487.7h0M79.3 504h0M75.3 494.3h0M76.8 507.5h0M57.1 504.8h0M85.9 495.9h0M65.3 495.6h0M73.8 483.2h0M49.2 442.4h0M40.1 447.2h0M65.1 443.3h0M38.9 447.2h0M38.5 452.8h0M89.9 469.2h0" stroke="#e9472d" stroke-width="1.55"/><path d="M35 497.9h0M44.6 492h0M42.7 493h0M39.8 495.7h0M35.5 495.3h0M37.7 494.5h0M39.2 493.9h0M39.6 492.5h0M48.8 478.4h0M58.2 472.3h0M56.8 473.8h0M58.5 474.8h0M59.5 470.4h0M48.9 479.4h0M51.5 478.5h0M60.2 463.2h0M50.3 472.5h0M45.8 479.6h0M60.8 475h0M51.4 471.9h0M58.2 471.4h0M54.3 476.8h0M49.6 478.8h0M49.3 475.3h0M43.2 460.6h0M48.9 472.7h0M59.9 480.3h0M74 509.5h0M57 505h0M63.9 493.1h0M59.6 493h0M70.3 504.7h0M49.1 489.4h0M67.1 501.9h0M51.3 492h0M74.5 509.5h0M79.6 483.2h0M73.4 487.1h0M78.3 484.4h0M84.8 486.9h0M49.4 483.8h0M80.3 488.5h0M78.8 495.6h0M70.4 508.7h0M62.4 490.3h0M65.6 489.4h0M73.7 493.8h0M71.8 487.9h0M47.2 492.9h0M79.4 509.3h0M65.4 494.1h0M55.4 501.2h0M76.2 487.2h0M57.6 498.9h0M65.2 501.8h0M63.3 478.3h0M61.2 504.7h0M54.6 487.2h0M78.2 508.1h0M61 505.6h0M59 496.8h0M62.9 506h0M49.4 487.9h0M61.1 499.6h0M84.4 486.8h0M56.5 484.4h0M84.7 502.7h0M69.9 487.8h0M80.5 509.1h0M43.4 452.8h0M46.9 451h0M55.4 442.6h0M54.1 453.7h0M57 424.2h0" stroke="#e43c26" stroke-width="1.55"/><path d="M37.2 494.3h0M44.4 493.9h0M41.2 495.4h0M38.9 494.3h0M43.2 494.6h0M48.1 471.6h0M46.1 463.6h0M45.7 476.6h0M56.7 477.3h0M48.1 464.1h0M48.3 466.2h0M55.1 475.1h0M46.8 478.9h0M52.1 471h0M54.1 465h0M58 472.4h0M58.7 471.3h0M54.3 461.7h0M50.2 474h0M46.1 477.8h0M59.1 459.6h0M61 462h0M57.7 473h0M51.9 466.1h0M59.4 465.4h0M58.4 474.3h0M62.5 464h0M45 468.1h0M54.2 469.3h0M50.8 472.4h0M87.9 500.6h0M81.4 504.7h0M91.4 499.7h0M57.5 492.8h0M70.1 492.1h0M62.1 499.4h0M76.2 497.6h0M65.8 505.3h0M81.2 492.6h0M83.7 506.2h0M90.8 503h0M49.1 479.4h0M68.6 493.9h0M57.3 505.9h0M74.2 493h0M66.6 497.4h0M71.1 508h0M73.7 482.8h0M49.5 479.7h0M88.4 498.2h0M63.2 498.2h0M51 486.8h0M50.1 481.7h0M55.5 487.2h0M68.6 494.1h0M79.8 484.8h0M74 484.9h0M72.6 488.8h0M54.3 499.6h0M52.9 486h0M45.4 481.3h0M78.9 494.8h0M77.9 503h0M68.8 499.2h0M65.7 507.7h0M59.2 504.7h0M59.9 500.5h0M71.4 506.5h0M54.8 482.9h0M72.2 500.6h0M62.4 498h0M63.3 507.3h0M80.3 506.8h0M76.7 480.3h0M55 488.5h0M60.8 482.3h0M56.7 478.4h0M72.9 494.8h0M60.2 502.6h0M61.2 489.4h0M66.7 477.4h0M54.4 427.7h0M92.1 466.2h0" stroke="#db3323" stroke-width="1.55"/><path d="M35.1 495.5h0M42.5 494.7h0M30.4 499.2h0M43.7 492.5h0M59.2 472.6h0M54.8 469.6h0M54.3 476h0M48 475h0M50 475.1h0M44.5 459.8h0M45.6 472.6h0M42.1 464.2h0M43.6 466.9h0M47.2 472.9h0M52.4 475.2h0M59.2 474.9h0M53.8 474.2h0M47.2 470.6h0M50.9 473.3h0M62.3 504.6h0M79.9 496.3h0M50.4 479.6h0M61.4 502.6h0M77.1 506.6h0M83 491.8h0M55.7 494.7h0M54.8 492.1h0M90.2 499.6h0M68.9 489h0M60.1 494.2h0M69.2 501.1h0M60.2 500.1h0M79.9 486.1h0M51.4 483.3h0M82.3 503.2h0" stroke="#d32b21" stroke-width="1.55"/><path d="M89.2 501.3h0M91.3 498.9h0M78.8 496.6h0M80.6 506.7h0M77.5 494.5h0M75.7 498.4h0" stroke="#ca221e" stroke-width="1.55"/><path d="M68.6 498h0M56.7 485.5h0M89.4 495.4h0M90.6 500.3h0M75.8 487.9h0M70.1 509h0M74.3 485.9h0M71.9 494.9h0" stroke="#be1e1c" stroke-width="1.55"/><path d="M69.4 480.5h0M59.6 480.2h0M61.4 505h0M81.4 496.7h0M68.7 482.3h0" stroke="#b21b19" stroke-width="1.55"/><path d="M78.3 509h0M59 482.1h0M84.9 505.7h0M61 480.9h0M57.8 505.8h0M62.7 483.9h0" stroke="#a61816" stroke-width="1.55"/><path d="M82.1 488.9h0M78.1 483.2h0" stroke="#9a1414" stroke-width="1.55"/></g>
<use href="#shB" transform="translate(0,126.1)"/>
<g stroke-linecap="round" fill="none" opacity="0.88"><path d="M175.7 491.7h0M175.5 495.4h0M169.7 484.9h0" stroke="#e43c26" stroke-width="1.55"/><path d="M169.1 430.6h0M163.6 440.1h0M193.6 441.1h0M156.8 438.1h0M170.4 431.2h0M162.1 453.8h0M175.1 424.8h0M176.1 462.4h0M175.3 468.8h0M199.9 489.8h0M198.4 505.3h0M187.9 502.7h0M171 493.2h0M165.8 483.3h0M208.6 493.2h0M155.5 429.5h0M151 426.7h0M160.8 429.2h0M160 431.3h0" stroke="#db3323" stroke-width="1.55"/><path d="M187.6 435.5h0M169.5 436.4h0M176.4 436.6h0M189.1 442.6h0M178.1 427.7h0M173.1 425.6h0M167.8 436.5h0M162 435.8h0M180.8 431.5h0M186.4 438.8h0M166.8 429.4h0M170.2 455.7h0M176.9 466.4h0M169.8 463.5h0M171 471.7h0M169.5 492.5h0M193.6 481.8h0M179.4 486.8h0M188.6 478.7h0" stroke="#d32b21" stroke-width="1.55"/><path d="M178 425.1h0M160.8 451h0M188.3 450.2h0M176.6 440h0M177.3 438.4h0M178.6 472.2h0M165.1 476h0M176.2 467.5h0M177.7 471.6h0M164.7 458.3h0M169.6 469.8h0M169.6 456.3h0M161.7 463.7h0M173.8 470.9h0M202.4 493.4h0M201.3 492.3h0M184.2 492.3h0M168.1 492.9h0M193.5 482.6h0M161.9 429.4h0" stroke="#ca221e" stroke-width="1.55"/><path d="M185.1 448.5h0M166.4 448.8h0M160.9 446.5h0M156.2 447.7h0M162.5 449.2h0M185.7 431.4h0M193.4 428.6h0M173.8 453.7h0M190.4 426h0M176 438.3h0M176.9 471.3h0M164 457.5h0M174.2 457.6h0M177.9 462.7h0M173.2 461h0M168.6 474.4h0M173 479.2h0M197.3 501.2h0M198.4 488.1h0M200 486h0" stroke="#be1e1c" stroke-width="1.55"/><path d="M180.2 452.9h0M181.1 444.3h0M184.3 438.2h0M174.7 447.9h0M175.1 444.5h0M166.2 440.7h0M172.9 427.4h0M185.1 452h0M181 429.4h0M160.8 436.6h0M171.1 456.9h0M181.2 461.2h0M171.5 464.2h0M178.9 457.2h0" stroke="#b21b19" stroke-width="1.55"/><path d="M186.1 433.2h0M190.6 433.2h0M170.5 428.5h0M191.8 436h0M186 430.4h0M180.7 427.3h0M169.5 429.3h0M173.7 429.3h0M156.4 449.4h0M170.7 440.3h0M183.8 452.6h0M167.3 429.6h0M173.4 472.2h0M174.8 459.1h0M176.2 454.1h0M178 455.4h0M179.7 475.3h0M172.8 470.9h0M171.6 463.5h0" stroke="#a61816" stroke-width="1.55"/><path d="M185 424.3h0M185.3 429h0M157.1 440.3h0M186.3 440.7h0M181 449.5h0M175.3 426.3h0M180.5 436.3h0M172.6 445.2h0M183.4 446.7h0M189.9 436.9h0" stroke="#9a1414" stroke-width="1.55"/></g>
<use href="#shB" transform="translate(129.1,128.4)"/>
<g stroke-linecap="round" fill="none" opacity="0.88"><path d="M288.4 430.8h0M289.6 435.1h0M292.3 435.8h0M286 434h0M279 428.3h0M323.1 445.1h0M316.6 434.9h0M316 443.6h0M297.6 442h0M314.6 443.2h0M303.6 436.6h0M315.4 449.7h0M312.5 454.7h0M305.3 435.6h0M316 444.5h0M313.4 434.3h0M297.3 448.8h0M322.8 439.8h0M302.7 436.2h0M319.4 443.6h0M291.8 453.7h0M318.9 430.5h0M291.6 451h0M318.5 436.4h0M298.2 438.5h0M314.1 439.4h0M311.5 433.9h0M295.8 432.5h0M302.6 454.2h0M293.7 438.2h0M311.3 426.9h0M299.7 438.2h0M319.2 446.3h0M305 445.9h0M305.4 449.8h0M308.8 441.3h0M319.6 437.3h0M288.1 445.2h0M302.1 455.3h0M307.3 430.8h0M315.2 449.9h0M302 454.3h0M286.2 447.9h0M307.1 447.3h0M303.9 437h0M302.2 443.3h0M312.9 435.5h0M293.2 450.7h0M314.7 434.4h0M303.4 432.7h0M323.9 443.1h0M303.6 434.2h0M312.7 433.9h0M312.4 426.6h0M306.6 438.4h0M321.3 441.4h0M305.2 438.2h0M319.9 439.1h0M286.2 447.1h0M303 445.8h0M305 437h0M298.2 452.7h0M318.3 438.6h0M304.4 458.2h0M299.8 460.5h0M293.3 470.4h0M292.3 462.2h0M298.4 456.6h0M294.7 470.4h0" stroke="#f0816b" stroke-width="1.55"/><path d="M281.4 433h0M279.3 430.9h0M286.1 432.7h0M283.1 434.1h0M290.2 433.2h0M290.2 435.5h0M303.5 427.1h0M299.7 433.5h0M322.9 441.5h0M289.7 448.1h0M309.4 453.8h0M296.4 434.4h0M311.4 427.2h0M311.2 432.3h0M296.5 443h0M324.8 437.4h0M294.7 446.2h0M321.3 448.1h0M321.5 445.6h0M301.6 439.8h0M311.2 437.2h0M310.8 439.9h0M305.1 432.8h0M287.8 441.1h0M302.2 439.5h0M314.9 432.8h0M288 442.9h0M296.8 453.3h0M315.4 429.4h0M297.7 445h0M299.2 439.5h0M309.8 425.7h0M305.3 428h0M299.1 450.3h0M293.8 441.6h0M310.3 441.4h0M310.1 451.1h0M293.4 433.6h0M316.2 429.1h0M321.5 437.7h0M317.8 447.6h0M298.4 436.6h0M311.2 435.3h0M305.1 426.3h0M314.5 433.8h0M323.4 443.7h0M296.7 439.3h0M313.4 445.1h0M309.6 435.9h0M302.5 454.1h0M315.1 444.6h0M322.4 437.7h0M304.4 428.5h0M322.9 445.8h0M316 427.5h0M316.7 452.4h0M310.4 432.4h0M300.9 432.4h0M320.5 439.4h0M308.4 426.9h0M300.4 440.8h0M323.4 437.4h0M290.9 438.5h0M299.7 442.5h0M308.4 439.8h0M315.8 436.3h0M285 453.7h0M305.1 458.1h0M310.3 458.6h0M297.2 468h0M292.8 463.4h0M293.5 457.5h0M300.5 464.7h0M303.6 463.2h0M291.4 462.8h0M306.9 476.3h0M311.3 460.2h0M294.1 457.4h0M314 461.7h0M312.6 456.7h0" stroke="#f07056" stroke-width="1.55"/><path d="M290.3 435.6h0M272.6 426.5h0M286.1 434.4h0M285.5 434.6h0M275.7 428.5h0M284.9 437.5h0M283.9 434.1h0M286.5 435.1h0M277.4 430h0M284.2 436.4h0M283.4 433.2h0M282.3 430.1h0M314.4 437.1h0M306.8 446.8h0M296.9 441.3h0M294 443.8h0M289.9 443.8h0M309.1 438.9h0M295.2 443.5h0M315.2 427.2h0M323 442.2h0M318.3 427.7h0M287.6 438.4h0M307 449.2h0M315.8 447.4h0M305.9 430.2h0M310.9 442.2h0M320 448.7h0M302.9 448.4h0M309.9 430.5h0M317.6 433.6h0M299.5 437.7h0M300.8 441.6h0M315 449.1h0M304.1 453.2h0M305.2 433.7h0M320.2 434.9h0M303.5 431.4h0M314.4 430.4h0M322.8 443.1h0M312.8 427.4h0M320.2 446.2h0M310.1 451.8h0M300.1 433.8h0M310.3 436.8h0M309.6 435.6h0M305.3 441.4h0M307.4 440.7h0M287.6 442.8h0M314.3 437.6h0M320.7 444.9h0M316.1 429.5h0M296.2 438.1h0M298.6 451.4h0M295.9 435.3h0M299.5 441.5h0M324.1 435.8h0M308.6 440.4h0M303.2 446.8h0M306.5 425.7h0M311.4 429.7h0M309.1 446.9h0M304.1 447.8h0M291.6 441.1h0M304.4 435h0M291.7 440.1h0M307.5 431.5h0M304.1 428.1h0M298.3 436.5h0M309 452.8h0M296.6 440.9h0M318.4 436.8h0M304.4 427.9h0M288.7 445h0M301.6 455.5h0M294.9 435.5h0M300 435.4h0M297 432.5h0M310.5 431.8h0M296.2 430.7h0M308.9 438.9h0M303.5 430.2h0M291.8 471.9h0M302.1 471.6h0M307.7 470.5h0M309.9 458.6h0M314.1 456.7h0M299.7 460.5h0M299.9 460.5h0M295.7 458h0M308.8 463.3h0M300.8 463.4h0M303.9 459.5h0M312.8 459.6h0M332.2 466.3h0M328.5 458.8h0M313.9 476.3h0" stroke="#f05f41" stroke-width="1.55"/><path d="M283.4 437h0M287.3 435.8h0M275.5 426.9h0M281.3 431h0M279.8 429.5h0M286.5 433.5h0M280.8 431.4h0M285.3 431.5h0M284.1 438.6h0M313.1 446.8h0M314.9 426h0M305.7 441.7h0M318.9 447.9h0M312.9 433.3h0M319.5 427.6h0M310.3 436h0M317.1 430.8h0M320.9 444.3h0M314.3 430.2h0M299.6 439.5h0M318.8 448.3h0M323 434.4h0M301.8 443.4h0M293.9 437.4h0M310.1 435.6h0M314.1 451.2h0M301.2 440.9h0M322 435.1h0M291.9 444.1h0M301.7 440h0M306.6 431.1h0M312 434.8h0M305.8 443h0M286.2 441.6h0M306.4 444.8h0M312.5 451.2h0M320.9 441h0M315.1 438.7h0M305.6 451.9h0M302 437.2h0M294.7 442.5h0M310.9 436h0M303.9 442.9h0M304.5 429.6h0M315.5 436.2h0M303.6 427.1h0M298.5 435h0M316.7 430.3h0M296.5 432.6h0M307.3 447.9h0M306.4 428.7h0M316.9 435.1h0M323 431.9h0M305.6 432.9h0M302.7 433.3h0M302.6 441.2h0M322.3 440.7h0M308.2 438.7h0M310.6 433.3h0M320 428.8h0M303.5 430.1h0M297.8 439.3h0M286.8 446.4h0M299.4 458.7h0M296.2 469.3h0M303.2 471.7h0M315.6 455.5h0M309.2 461.8h0M297.3 458.5h0M312 497.3h0M302.4 481.7h0M305.1 489.2h0M323.3 490.1h0M314.1 483.7h0M298.2 491.5h0M305.9 499.5h0M322.2 504.4h0M312.3 508.6h0M329 465.4h0M333.1 469h0M329 468.1h0M329.8 460.7h0M330.5 460.5h0M323.9 471.5h0M325.9 469.2h0" stroke="#ed5234" stroke-width="1.55"/><path d="M284.4 431.9h0M284.4 437h0M283.7 437.2h0M284.5 436.1h0M283.7 432.1h0M289.7 436.9h0M278.2 429.9h0M286.6 434.6h0M324.5 443.3h0M294.9 449.3h0M315.2 427.4h0M313.7 443.3h0M290.6 449.7h0M306.5 437.1h0M306.1 445.7h0M318.1 438.6h0M312.7 431.6h0M318.2 445.1h0M320.9 437.4h0M317.8 447.9h0M304.2 452.6h0M300.6 437.7h0M310.9 443.4h0M301.2 437.5h0M307.1 449.3h0M292.9 452.9h0M303.3 434.2h0M320.1 434.7h0M306.6 450.4h0M315.3 436.3h0M317.3 430.4h0M300.6 437.8h0M305.7 432h0M305.4 431.4h0M296.5 442.9h0M302.1 449.6h0M310.9 435.4h0M296.9 446.5h0M311.6 426.3h0M307.4 440.6h0M300.2 429.2h0M293.6 434.3h0M305.3 447.1h0M320.5 438.2h0M293.8 436.7h0M302.3 443.5h0M310.6 439.1h0M304.2 428.9h0M315.5 438.4h0M302.7 439.3h0M303.5 458.3h0M306.1 457.8h0M291.6 467.3h0M293.8 464.3h0M293.8 457.6h0M305 464.5h0M313.7 458.3h0M314.1 458.1h0M308.9 459.6h0M301.2 461.1h0M317.1 455.4h0M311.9 456h0M295.4 466.6h0M314.3 455.7h0M334.8 508.9h0M309 495.2h0M310.3 485.3h0M322.5 497h0M335 492.8h0M299.4 482.9h0M330.5 506.6h0M335 469.4h0M337.4 471.5h0M329.6 472h0M332.4 467.3h0M330 466.2h0M318.9 467.9h0M312.8 467.9h0M291.1 496.8h0" stroke="#e9472d" stroke-width="1.55"/><path d="M292.6 433.3h0M289.4 434.8h0M284.1 436.3h0M289.7 436.4h0M287.7 436.7h0M290 449.2h0M294.4 448.5h0M315.2 440h0M302 456h0M300 436.3h0M315.9 431h0M308.9 426.3h0M304.9 448.2h0M304.5 451.4h0M290.6 445.9h0M310.3 450.3h0M315.1 429.5h0M305.1 428.5h0M308.8 427.8h0M299.1 434.6h0M303.9 442h0M323.6 436.7h0M323.5 440.6h0M309.3 430.4h0M299.9 434.8h0M319.9 428.3h0M302.5 430.3h0M288 443.1h0M306.8 440.1h0M307.6 442.5h0M291.9 451.4h0M292.2 450.6h0M293.2 452.5h0M301.2 431.9h0M290.6 441h0M314.7 428h0M301.1 445.1h0M287.2 443.8h0M318.2 431.4h0M309.9 425.7h0M307.8 444.9h0M300.5 448.6h0M299.4 432.1h0M299.5 431.1h0M313.8 447.1h0M287.5 440.9h0M312.8 427.6h0M298.4 435.6h0M313.5 440.1h0M290 452.4h0M291.6 446.1h0M302.9 447.8h0M305.5 427.5h0M289.9 465.9h0M297.5 463.1h0M290.4 464.1h0M305.1 469.1h0M307.2 479.7h0M303.8 484.7h0M299.4 487.9h0M340.2 468.9h0M343.9 467.9h0M340.7 471.7h0M345.3 468.1h0M338.5 468.3h0M336 469.2h0M338.7 469.6h0M331.8 470.5h0M341.1 468.2h0M329.2 465.3h0M342.3 469.2h0M332.6 472.4h0M329.3 459.8h0M326.8 457.3h0M318.5 469.5h0M316.9 472.8h0M314.9 470.6h0" stroke="#e43c26" stroke-width="1.55"/><path d="M302.3 438.8h0M306.5 442.7h0M299.6 437.8h0M316.5 430.1h0M292.7 448.6h0M286.1 445.8h0M316.8 446.2h0M306.9 447.4h0M311 426.9h0M322.5 432.3h0M294.2 439.5h0M298.1 443.8h0M305.2 431.3h0M294.4 439.8h0M314.9 448.3h0M304.8 436.2h0M324.6 441.3h0M286.2 440.6h0M311.6 433.2h0M312.6 438.9h0M294.1 431.6h0M318.9 432.9h0M314.7 449.3h0M297 432.5h0M301.5 446h0M319.2 434.8h0M298.3 434.9h0M304.5 499.6h0M313.7 491.9h0M319.3 507.7h0M340.9 471.2h0M344.6 471.5h0M332.3 467.8h0M336.8 468.6h0M330.4 472.3h0M327.3 456.9h0M328.9 457.8h0M329.3 460.3h0" stroke="#db3323" stroke-width="1.55"/><path d="M342.8 468.4h0M342.8 469.3h0M343.8 467.8h0M343.1 469.9h0M333.3 471.2h0M337 470.9h0M327.1 457.2h0" stroke="#d32b21" stroke-width="1.55"/><path d="M343.1 469h0M346.3 469h0M343 469h0" stroke="#ca221e" stroke-width="1.55"/><path d="M344.2 471.2h0M344.3 470.6h0M341.8 468.8h0" stroke="#be1e1c" stroke-width="1.55"/><path d="M343.2 469.6h0M344.1 468.9h0M341.3 468.7h0M342.4 469h0M345 471.1h0" stroke="#b21b19" stroke-width="1.55"/><path d="M343.8 469.4h0" stroke="#a61816" stroke-width="1.55"/></g>
<use href="#shB" transform="translate(253.6,128.3)"/>
<g stroke-linecap="round" fill="none" opacity="0.88"><path d="M449.6 498.3h0M426.8 496.4h0M451.5 490.8h0M444 490.9h0M449.7 502h0M450.9 502.2h0M443.1 486.7h0" stroke="#f07056" stroke-width="1.55"/><path d="M448.3 503h0M454.7 501.9h0M445.5 485.3h0M446.1 483.5h0M443.4 494.2h0M455.7 491.7h0M455.9 499.5h0M451.3 491h0M447.2 496.5h0M443.6 501.7h0M447.7 488h0M452.4 495.1h0M461.5 502.8h0M447 481.4h0M447.8 500.5h0M443.1 496.5h0M460 502.4h0M456.6 500.5h0M447.2 503h0M454.8 492.4h0M446.6 510.8h0M457.5 491.5h0M460.1 500.4h0M464.5 501h0M461.1 509.1h0M441.3 511.2h0M458.3 496.1h0M451.3 493.8h0M432.7 478.6h0M436.9 501.3h0M454.9 488h0M424.9 483.6h0M434.1 500.9h0M439.5 488.6h0M434.7 506.3h0" stroke="#f05f41" stroke-width="1.55"/><path d="M450.9 500.7h0M459.5 503.8h0M445.5 506.1h0M445.7 503.2h0M453.1 490.2h0M446.2 489.7h0M442.5 506.4h0M443.8 492.2h0M446.9 494.9h0M456.1 501.1h0M454.7 504h0M459.4 504.9h0M452.3 489.2h0M458.2 489.6h0M443.9 504.7h0M445.6 483.1h0M461.8 498.2h0M455.7 491.1h0M441.2 500.4h0M451.3 502.6h0M445.3 493.5h0M448.2 482.2h0M448.9 509.8h0M443.6 491h0M447.7 509.2h0M445.4 498.2h0M445.6 487.2h0M456.5 490.9h0M447.1 506.6h0M447.2 490.8h0M454.9 507.6h0M449.5 506.4h0M462.4 501.5h0M442 510.3h0M459.2 509.6h0M428.8 486.9h0M458.4 498.9h0M443.4 499.2h0M443.5 507.8h0M423.6 494h0M436.4 508.6h0M426.8 486h0M432.4 477.3h0M426.5 459.3h0" stroke="#ed5234" stroke-width="1.55"/><path d="M447.9 487.8h0M445.2 491.8h0M451.1 494.9h0M451.1 495.2h0M455 493.8h0M452.4 495.3h0M445.6 509h0M447.6 493.7h0M455.2 489.1h0M464.2 502.1h0M450.3 511.8h0M458.9 501.9h0M457.5 488.6h0M458 495h0M451.3 485.3h0M449.4 482.2h0M444.4 494.4h0M445.2 502.6h0M448.1 510.4h0M454.9 509.8h0M456.7 508.6h0M465.7 507.7h0M457 503.9h0M463.4 498.3h0M459.6 496.7h0M450.3 489.5h0M455.8 494.2h0M458.9 499.7h0M444.6 491.7h0M449.1 508.5h0M447.3 501h0M455.6 490.5h0M441.7 509.8h0M450.4 495.2h0M455.6 489.9h0M448.8 502.7h0M420.8 493.2h0M448 507.6h0M440.1 489h0M455 487.2h0M464.4 502.7h0M436.3 485.3h0M461 500.3h0M435.3 486.1h0M450 509.5h0M434.6 458.9h0M431.6 465h0M418.7 460.6h0" stroke="#e9472d" stroke-width="1.55"/><path d="M457.4 506.8h0M463.5 499.4h0M445 488.6h0M448.3 509.1h0M457.4 509.4h0M448.8 497.8h0M463.9 503.7h0M444.3 488.2h0M458.4 495.8h0M458.3 505.7h0M442.2 507.5h0M444.6 489.2h0M445.6 487.5h0M453.7 508.6h0M441.2 504.2h0M453.7 499.6h0M454.2 492.4h0M452.4 496.3h0M449.2 500.5h0M455 498.9h0M464.9 506.8h0M462.1 497.2h0M453.2 494.4h0M452.7 506.3h0M446.1 511.5h0M452.1 508.9h0M452 485.2h0M433.9 503.3h0M452.6 487.1h0M449.2 490h0M434.6 488h0M435.8 501.7h0M443 488h0M422.2 490h0M430.3 504.6h0M446.3 485.1h0M445.6 503.4h0M422.8 467.2h0M432.1 468h0" stroke="#e43c26" stroke-width="1.55"/><path d="M444.5 507.3h0M446.8 484.4h0M440 508.6h0M445.6 497.2h0M452.6 486.1h0M463.2 499.5h0M454.3 490.6h0M451.9 502.9h0M462.6 503h0M453 487.3h0M456.9 504.2h0M460.4 501.5h0M446.2 492.8h0M449 500.6h0M457.4 504.1h0M462.4 498.8h0M449.8 503.8h0M441.1 507.3h0M444.6 496.9h0M454.4 500.6h0M465 503.3h0M457.4 509.2h0M447.8 489.2h0M451.6 509.2h0M456.9 496.5h0M454.7 508.1h0M454.2 509.7h0M459.9 507.6h0M460.6 505.8h0M460.5 501.1h0M457.6 493.2h0M436.6 509.1h0M454 505.5h0M432.2 486.4h0M440.2 508.3h0M430.1 480h0M465.9 506.5h0M431.7 491.4h0M425.3 474.2h0M418.5 459.2h0" stroke="#db3323" stroke-width="1.55"/><path d="M453.4 510.9h0M447.7 505h0M453.9 509.3h0M441.5 505.2h0M458.4 498.2h0M448 510.6h0M448.4 503.8h0M446.4 511.4h0M459.5 501.6h0M452.7 502.3h0M460.3 498.3h0M457 507.7h0M447.5 494.2h0M451.9 509.5h0M460.5 499.5h0M457.5 500.5h0M441.5 506h0M462.6 505.2h0M441.1 508.3h0M461 495.4h0M454.4 508.8h0M444.5 509.6h0M452.8 508h0M461.7 505.4h0M447.9 511.5h0M462.7 500h0M446.7 507.1h0M452.5 509.2h0M460.8 504.4h0M458.6 506.9h0M451.5 509.8h0M454.3 506.8h0M464.6 500.7h0M450.4 508.8h0M461.7 506.4h0M463.6 505.8h0M456.1 504.9h0M466.6 504.1h0M461.6 496.5h0M464.2 506.4h0M459.3 501.9h0M466.6 504.5h0M464.5 503.3h0M420 457.8h0" stroke="#d32b21" stroke-width="1.55"/><path d="M445.2 506.8h0M453.4 502.2h0M443.3 504.8h0M442.7 492.8h0M441.2 503.4h0M461.6 505.4h0M441.7 493.5h0M447.4 493.3h0M443.5 504.1h0M444.1 488.2h0M444.3 503.8h0M442.8 490.7h0M446.3 487h0M454.2 501.9h0M451.5 497.7h0M451.7 486h0M462.8 505.3h0M452 506.4h0M451.1 506.4h0M454.5 506.1h0M455.1 502.5h0M430.1 436.9h0" stroke="#ca221e" stroke-width="1.55"/><path d="M454.6 500.4h0M463 505.5h0M462.4 505.1h0M456.6 507.9h0M461 500.5h0M458 506.9h0M458.3 502.1h0M455.8 500.9h0M464.8 504.3h0M459 499.4h0M457.2 498.4h0M452.6 508.5h0M454.4 501.8h0M463.5 498.3h0M459.7 504.8h0" stroke="#be1e1c" stroke-width="1.55"/><path d="M456.7 506.4h0M462.8 496.7h0M465.4 504.8h0M459.3 501.7h0M456 507.7h0M459 503.3h0M464.6 499.6h0M461.1 507.7h0M425.5 439.6h0" stroke="#b21b19" stroke-width="1.55"/><path d="M451.9 509.5h0M454.3 500.5h0M453.7 501.7h0M456.1 495.3h0M457.3 500.1h0M455.8 503.3h0M461.5 500h0M457.8 505.8h0M458.6 497.5h0M454.6 507.1h0M455 508.9h0M453.5 501.5h0M461.7 504.9h0" stroke="#a61816" stroke-width="1.55"/><path d="M463.9 502.2h0M460.3 503.7h0M460.8 499.7h0M461.3 495.8h0M454.3 508.8h0M459.3 504.1h0M463.7 502.6h0M455.7 498.8h0M462.8 504.8h0M460.9 504.9h0M455.9 504.4h0" stroke="#9a1414" stroke-width="1.55"/><path d="M456.7 492.8h0M459.9 494h0M456.6 493h0M457.9 504.5h0M456.5 503.9h0" stroke="#8e1212" stroke-width="1.55"/></g>
<text x="39.7" y="20.6" font-size="12.6" textLength="36.6" lengthAdjust="spacing" font-style="italic">IL3RA</text>
<text x="159" y="20.6" font-size="12.6" textLength="38.3" lengthAdjust="spacing" font-style="italic">IL5RA</text>
<text x="280.5" y="20.6" font-size="12.6" textLength="52.4" lengthAdjust="spacing" font-style="italic">CSF2RA</text>
<text x="402.75" y="20.6" font-size="12.6" textLength="53.4" lengthAdjust="spacing" font-style="italic">CSF2RB</text>
<text x="40" y="151.8" font-size="12.6" textLength="36.95" lengthAdjust="spacing" font-style="italic">EPOR</text>
<text x="165" y="148.1" font-size="12.6" textLength="27.2" lengthAdjust="spacing" font-style="italic">MPL</text>
<text x="293.5" y="150.1" font-size="12.6" textLength="26.4" lengthAdjust="spacing" font-style="italic">FLT3</text>
<text x="409" y="150.1" font-size="12.6" textLength="43.9" lengthAdjust="spacing" font-style="italic">IL1RL1</text>
<text x="39.75" y="277.7" font-size="12.6" textLength="36.6" lengthAdjust="spacing" font-style="italic">IL3RA</text>
<text x="159" y="278.1" font-size="12.6" textLength="38.3" lengthAdjust="spacing" font-style="italic">IL5RA</text>
<text x="280.5" y="278.1" font-size="12.6" textLength="52.4" lengthAdjust="spacing" font-style="italic">CSF2RA</text>
<text x="404" y="278.1" font-size="12.6" textLength="53.4" lengthAdjust="spacing" font-style="italic">CSF2RB</text>
<text x="40" y="410.1" font-size="12.6" textLength="36.95" lengthAdjust="spacing" font-style="italic">EPOR</text>
<text x="165" y="410.1" font-size="12.6" textLength="27.2" lengthAdjust="spacing" font-style="italic">MPL</text>
<text x="293.5" y="412.6" font-size="12.6" textLength="26.4" lengthAdjust="spacing" font-style="italic">FLT3</text>
<text x="409" y="412.6" font-size="12.6" textLength="43.9" lengthAdjust="spacing" font-style="italic">IL1RL1</text>
<rect x="101.65" y="27.15" width="3.10" height="96.90" fill="url(#cm)" stroke="#1a1a1a" stroke-width="1.1"/>
<line x1="105.1" y1="41.3" x2="108.8" y2="41.3" stroke="#111" stroke-width="1"/>
<text x="113.9" y="45.6" font-size="11">2</text>
<line x1="105.1" y1="82.2" x2="108.8" y2="82.2" stroke="#111" stroke-width="1"/>
<text x="113.9" y="86.5" font-size="11">1</text>
<line x1="105.1" y1="124.1" x2="108.8" y2="124.1" stroke="#111" stroke-width="1"/>
<text x="113.9" y="128.4" font-size="11">0</text>
<rect x="220.85" y="27.35" width="3.70" height="96.70" fill="url(#cm)" stroke="#1a1a1a" stroke-width="1.1"/>
<line x1="224.9" y1="34.9" x2="228.6" y2="34.9" stroke="#111" stroke-width="1"/>
<text x="233.3" y="39.2" font-size="11">1.5</text>
<line x1="224.9" y1="64.2" x2="228.6" y2="64.2" stroke="#111" stroke-width="1"/>
<text x="233.3" y="68.5" font-size="11">1.0</text>
<line x1="224.9" y1="93.7" x2="228.6" y2="93.7" stroke="#111" stroke-width="1"/>
<text x="233.3" y="98.0" font-size="11">0.5</text>
<line x1="224.9" y1="124.1" x2="228.6" y2="124.1" stroke="#111" stroke-width="1"/>
<text x="233.3" y="128.4" font-size="11">0.0</text>
<rect x="350.35" y="27.35" width="3.30" height="96.70" fill="url(#cm)" stroke="#1a1a1a" stroke-width="1.1"/>
<line x1="354.0" y1="36.6" x2="357.7" y2="36.6" stroke="#111" stroke-width="1"/>
<text x="361.6" y="40.9" font-size="11">2</text>
<line x1="354.0" y1="80.6" x2="357.7" y2="80.6" stroke="#111" stroke-width="1"/>
<text x="361.6" y="84.9" font-size="11">1</text>
<line x1="354.0" y1="124.1" x2="357.7" y2="124.1" stroke="#111" stroke-width="1"/>
<text x="361.6" y="128.4" font-size="11">0</text>
<rect x="474.75" y="27.35" width="3.70" height="96.70" fill="url(#cm)" stroke="#1a1a1a" stroke-width="1.1"/>
<line x1="478.8" y1="40.7" x2="482.5" y2="40.7" stroke="#111" stroke-width="1"/>
<text x="486.6" y="45.0" font-size="11">2</text>
<line x1="478.8" y1="82.2" x2="482.5" y2="82.2" stroke="#111" stroke-width="1"/>
<text x="486.6" y="86.5" font-size="11">1</text>
<line x1="478.8" y1="124.1" x2="482.5" y2="124.1" stroke="#111" stroke-width="1"/>
<text x="486.6" y="128.4" font-size="11">0</text>
<rect x="102.15" y="154.35" width="3.50" height="96.90" fill="url(#cm)" stroke="#1a1a1a" stroke-width="1.1"/>
<line x1="106.0" y1="165.7" x2="109.7" y2="165.7" stroke="#111" stroke-width="1"/>
<text x="113.7" y="170.0" font-size="11">1.5</text>
<line x1="106.0" y1="194.2" x2="109.7" y2="194.2" stroke="#111" stroke-width="1"/>
<text x="113.7" y="198.5" font-size="11">1.0</text>
<line x1="106.0" y1="222.8" x2="109.7" y2="222.8" stroke="#111" stroke-width="1"/>
<text x="113.7" y="227.1" font-size="11">0.5</text>
<line x1="106.0" y1="251.3" x2="109.7" y2="251.3" stroke="#111" stroke-width="1"/>
<text x="113.7" y="255.6" font-size="11">0.0</text>
<rect x="220.95" y="151.45" width="3.70" height="96.90" fill="url(#cm)" stroke="#1a1a1a" stroke-width="1.1"/>
<line x1="225.0" y1="182.5" x2="228.7" y2="182.5" stroke="#111" stroke-width="1"/>
<text x="233.3" y="186.8" font-size="11">1.0</text>
<line x1="225.0" y1="215.7" x2="228.7" y2="215.7" stroke="#111" stroke-width="1"/>
<text x="233.3" y="220.0" font-size="11">0.5</text>
<line x1="225.0" y1="248.4" x2="228.7" y2="248.4" stroke="#111" stroke-width="1"/>
<text x="233.3" y="252.7" font-size="11">0.0</text>
<rect x="350.35" y="154.35" width="3.30" height="96.90" fill="url(#cm)" stroke="#1a1a1a" stroke-width="1.1"/>
<line x1="354.0" y1="168.9" x2="357.7" y2="168.9" stroke="#111" stroke-width="1"/>
<text x="361.2" y="173.2" font-size="11">2</text>
<line x1="354.0" y1="210.4" x2="357.7" y2="210.4" stroke="#111" stroke-width="1"/>
<text x="361.2" y="214.7" font-size="11">1</text>
<line x1="354.0" y1="251.3" x2="357.7" y2="251.3" stroke="#111" stroke-width="1"/>
<text x="361.2" y="255.6" font-size="11">0</text>
<rect x="474.75" y="154.35" width="3.70" height="96.90" fill="url(#cm)" stroke="#1a1a1a" stroke-width="1.1"/>
<line x1="478.8" y1="168.9" x2="482.5" y2="168.9" stroke="#111" stroke-width="1"/>
<text x="486.6" y="173.2" font-size="11">1.5</text>
<line x1="478.8" y1="196.5" x2="482.5" y2="196.5" stroke="#111" stroke-width="1"/>
<text x="486.6" y="200.8" font-size="11">1.0</text>
<line x1="478.8" y1="223.8" x2="482.5" y2="223.8" stroke="#111" stroke-width="1"/>
<text x="486.6" y="228.1" font-size="11">0.5</text>
<line x1="478.8" y1="251.3" x2="482.5" y2="251.3" stroke="#111" stroke-width="1"/>
<text x="486.6" y="255.6" font-size="11">0.0</text>
<rect x="101.85" y="291.45" width="3.60" height="96.40" fill="url(#cm)" stroke="#1a1a1a" stroke-width="1.1"/>
<line x1="105.8" y1="291.8" x2="109.5" y2="291.8" stroke="#111" stroke-width="1"/>
<text x="113.7" y="296.1" font-size="11">2</text>
<line x1="105.8" y1="340.2" x2="109.5" y2="340.2" stroke="#111" stroke-width="1"/>
<text x="113.7" y="344.5" font-size="11">1</text>
<line x1="105.8" y1="387.9" x2="109.5" y2="387.9" stroke="#111" stroke-width="1"/>
<text x="113.7" y="392.2" font-size="11">0</text>
<rect x="220.85" y="291.45" width="3.70" height="96.40" fill="url(#cm)" stroke="#1a1a1a" stroke-width="1.1"/>
<line x1="224.9" y1="312.2" x2="228.6" y2="312.2" stroke="#111" stroke-width="1"/>
<text x="233.3" y="316.5" font-size="11">1.5</text>
<line x1="224.9" y1="337.1" x2="228.6" y2="337.1" stroke="#111" stroke-width="1"/>
<text x="233.3" y="341.4" font-size="11">1.0</text>
<line x1="224.9" y1="362.6" x2="228.6" y2="362.6" stroke="#111" stroke-width="1"/>
<text x="233.3" y="366.9" font-size="11">0.5</text>
<line x1="224.9" y1="387.9" x2="228.6" y2="387.9" stroke="#111" stroke-width="1"/>
<text x="233.3" y="392.2" font-size="11">0.0</text>
<rect x="350.35" y="291.45" width="3.30" height="96.40" fill="url(#cm)" stroke="#1a1a1a" stroke-width="1.1"/>
<line x1="354.0" y1="303.2" x2="357.7" y2="303.2" stroke="#111" stroke-width="1"/>
<text x="361.2" y="307.5" font-size="11">0.75</text>
<line x1="354.0" y1="331.5" x2="357.7" y2="331.5" stroke="#111" stroke-width="1"/>
<text x="361.2" y="335.8" font-size="11">0.50</text>
<line x1="354.0" y1="359.5" x2="357.7" y2="359.5" stroke="#111" stroke-width="1"/>
<text x="361.2" y="363.8" font-size="11">0.25</text>
<line x1="354.0" y1="387.9" x2="357.7" y2="387.9" stroke="#111" stroke-width="1"/>
<text x="361.2" y="392.2" font-size="11">0.00</text>
<rect x="474.75" y="291.45" width="3.70" height="96.40" fill="url(#cm)" stroke="#1a1a1a" stroke-width="1.1"/>
<line x1="478.8" y1="319.0" x2="482.5" y2="319.0" stroke="#111" stroke-width="1"/>
<text x="486.6" y="323.3" font-size="11">2</text>
<line x1="478.8" y1="353.7" x2="482.5" y2="353.7" stroke="#111" stroke-width="1"/>
<text x="486.6" y="358.0" font-size="11">1</text>
<line x1="478.8" y1="387.9" x2="482.5" y2="387.9" stroke="#111" stroke-width="1"/>
<text x="486.6" y="392.2" font-size="11">0</text>
<rect x="102.05" y="417.35" width="3.60" height="96.90" fill="url(#cm)" stroke="#1a1a1a" stroke-width="1.1"/>
<line x1="106.0" y1="433.9" x2="109.7" y2="433.9" stroke="#111" stroke-width="1"/>
<text x="113.7" y="438.2" font-size="11">1.0</text>
<line x1="106.0" y1="473.9" x2="109.7" y2="473.9" stroke="#111" stroke-width="1"/>
<text x="113.7" y="478.2" font-size="11">0.5</text>
<line x1="106.0" y1="514.3" x2="109.7" y2="514.3" stroke="#111" stroke-width="1"/>
<text x="113.7" y="518.6" font-size="11">0.0</text>
<rect x="220.85" y="417.35" width="3.70" height="96.90" fill="url(#cm)" stroke="#1a1a1a" stroke-width="1.1"/>
<line x1="224.9" y1="429.7" x2="228.6" y2="429.7" stroke="#111" stroke-width="1"/>
<text x="233.3" y="434.0" font-size="11">0.6</text>
<line x1="224.9" y1="457.7" x2="228.6" y2="457.7" stroke="#111" stroke-width="1"/>
<text x="233.3" y="462.0" font-size="11">0.4</text>
<line x1="224.9" y1="485.7" x2="228.6" y2="485.7" stroke="#111" stroke-width="1"/>
<text x="233.3" y="490.0" font-size="11">0.2</text>
<line x1="224.9" y1="514.3" x2="228.6" y2="514.3" stroke="#111" stroke-width="1"/>
<text x="233.3" y="518.6" font-size="11">0.0</text>
<rect x="350.35" y="419.35" width="3.30" height="96.40" fill="url(#cm)" stroke="#1a1a1a" stroke-width="1.1"/>
<line x1="354.0" y1="425.6" x2="357.7" y2="425.6" stroke="#111" stroke-width="1"/>
<text x="361.2" y="429.9" font-size="11">2</text>
<line x1="354.0" y1="471.2" x2="357.7" y2="471.2" stroke="#111" stroke-width="1"/>
<text x="361.2" y="475.5" font-size="11">1</text>
<line x1="354.0" y1="515.8" x2="357.7" y2="515.8" stroke="#111" stroke-width="1"/>
<text x="361.2" y="520.1" font-size="11">0</text>
<rect x="474.75" y="419.35" width="3.70" height="95.40" fill="url(#cm)" stroke="#1a1a1a" stroke-width="1.1"/>
<line x1="478.8" y1="442.8" x2="482.5" y2="442.8" stroke="#111" stroke-width="1"/>
<text x="486.6" y="447.1" font-size="11">1.5</text>
<line x1="478.8" y1="466.4" x2="482.5" y2="466.4" stroke="#111" stroke-width="1"/>
<text x="486.6" y="470.7" font-size="11">1.0</text>
<line x1="478.8" y1="490.9" x2="482.5" y2="490.9" stroke="#111" stroke-width="1"/>
<text x="486.6" y="495.2" font-size="11">0.5</text>
<line x1="478.8" y1="514.8" x2="482.5" y2="514.8" stroke="#111" stroke-width="1"/>
<text x="486.6" y="519.1" font-size="11">0.0</text>
<text x="25" y="55.7" font-size="11.2" textLength="26.0" lengthAdjust="spacing">MPP</text>
<text x="6.8" y="81.4" font-size="11.2" textLength="21.5" lengthAdjust="spacing">Neu</text>
<text x="31" y="118.9" font-size="11.2" textLength="16.9" lengthAdjust="spacing">Ery</text>
<text x="43.3" y="133.2" font-size="11.2" textLength="47.3" lengthAdjust="spacing">Cluster A</text>
<text x="16.7" y="292.0" font-size="11.2" textLength="21.4" lengthAdjust="spacing">Neu</text>
<text x="73.4" y="297.9" font-size="11.2" textLength="25.5" lengthAdjust="spacing">MPP</text>
<text x="22.5" y="364.0" font-size="11.2" textLength="16.0" lengthAdjust="spacing">Ery</text>
<text x="35" y="389.4" font-size="11.2" textLength="30.8" lengthAdjust="spacing">Pop A</text>
</svg></body></html>
